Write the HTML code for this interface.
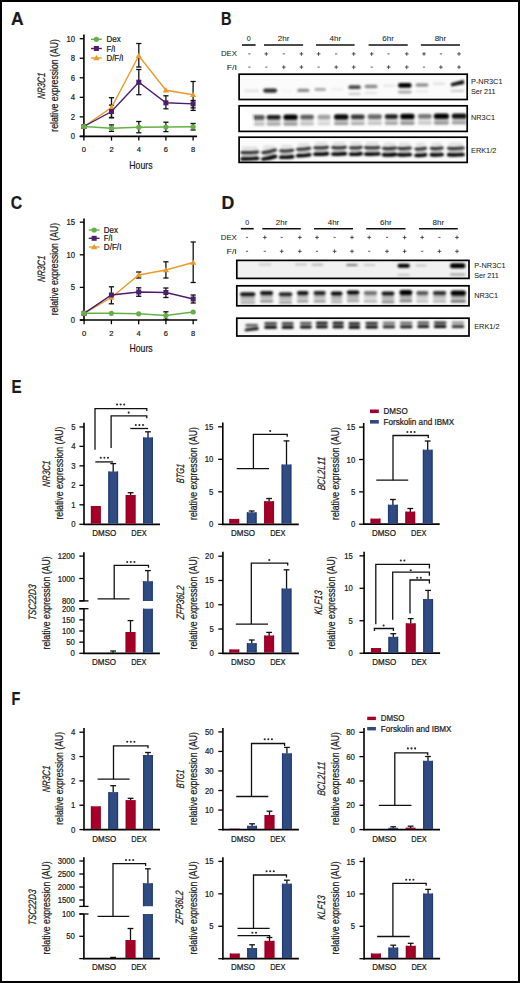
<!DOCTYPE html><html><head><meta charset="utf-8"><style>html,body{margin:0;padding:0;background:#fff;}svg{display:block;}text{font-family:"Liberation Sans",sans-serif;fill:#1a1a1a;stroke:#1a1a1a;stroke-width:0.22px;} text.nb{stroke-width:0.05px;}</style></head><body>
<svg width="520" height="983" viewBox="0 0 520 983">
<defs><filter id="bl" x="-20%" y="-50%" width="140%" height="200%"><feGaussianBlur stdDeviation="1.1"/></filter><filter id="bl2" x="-20%" y="-50%" width="140%" height="200%"><feGaussianBlur stdDeviation="0.85"/></filter></defs>
<rect x="0" y="0" width="520" height="983" fill="#fff"/>
<rect x="1" y="1" width="518" height="981" fill="none" stroke="#000" stroke-width="2"/>
<text x="11.00" y="25.10" font-size="17.5" textLength="12.60" lengthAdjust="spacingAndGlyphs" font-weight="bold" fill="#000" stroke="#000" stroke-width="0.7">A</text>
<text x="221.10" y="24.90" font-size="17.5" textLength="10.50" lengthAdjust="spacingAndGlyphs" font-weight="bold" fill="#000" stroke="#000" stroke-width="0.7">B</text>
<text x="10.80" y="209.00" font-size="17.5" textLength="11.40" lengthAdjust="spacingAndGlyphs" font-weight="bold" fill="#000" stroke="#000" stroke-width="0.7">C</text>
<text x="221.40" y="208.60" font-size="17.5" textLength="12.80" lengthAdjust="spacingAndGlyphs" font-weight="bold" fill="#000" stroke="#000" stroke-width="0.7">D</text>
<text x="11.40" y="392.60" font-size="17.5" textLength="10.10" lengthAdjust="spacingAndGlyphs" font-weight="bold" fill="#000" stroke="#000" stroke-width="0.7">E</text>
<text x="11.40" y="704.60" font-size="17.5" textLength="8.80" lengthAdjust="spacingAndGlyphs" font-weight="bold" fill="#000" stroke="#000" stroke-width="0.7">F</text>
<line x1="83.90" y1="34.40" x2="83.90" y2="137.20" stroke="#000" stroke-width="1.6"/>
<line x1="79.70" y1="136.40" x2="197.10" y2="136.40" stroke="#000" stroke-width="1.7"/>
<line x1="79.70" y1="136.40" x2="83.90" y2="136.40" stroke="#000" stroke-width="1.3"/>
<text x="75.10" y="139.34" font-size="8.4" text-anchor="end" textLength="4.30" lengthAdjust="spacingAndGlyphs">0</text>
<line x1="79.70" y1="116.86" x2="83.90" y2="116.86" stroke="#000" stroke-width="1.3"/>
<text x="75.10" y="119.80" font-size="8.4" text-anchor="end" textLength="4.30" lengthAdjust="spacingAndGlyphs">2</text>
<line x1="79.70" y1="97.32" x2="83.90" y2="97.32" stroke="#000" stroke-width="1.3"/>
<text x="75.10" y="100.26" font-size="8.4" text-anchor="end" textLength="4.30" lengthAdjust="spacingAndGlyphs">4</text>
<line x1="79.70" y1="77.78" x2="83.90" y2="77.78" stroke="#000" stroke-width="1.3"/>
<text x="75.10" y="80.72" font-size="8.4" text-anchor="end" textLength="4.30" lengthAdjust="spacingAndGlyphs">6</text>
<line x1="79.70" y1="58.24" x2="83.90" y2="58.24" stroke="#000" stroke-width="1.3"/>
<text x="75.10" y="61.18" font-size="8.4" text-anchor="end" textLength="4.30" lengthAdjust="spacingAndGlyphs">8</text>
<line x1="79.70" y1="38.70" x2="83.90" y2="38.70" stroke="#000" stroke-width="1.3"/>
<text x="75.10" y="41.64" font-size="8.4" text-anchor="end" textLength="8.60" lengthAdjust="spacingAndGlyphs">10</text>
<line x1="83.90" y1="136.40" x2="83.90" y2="140.60" stroke="#000" stroke-width="1.3"/>
<text x="83.90" y="152.40" font-size="8.0" text-anchor="middle" textLength="4.20" lengthAdjust="spacingAndGlyphs">0</text>
<line x1="111.50" y1="136.40" x2="111.50" y2="140.60" stroke="#000" stroke-width="1.3"/>
<text x="111.50" y="152.40" font-size="8.0" text-anchor="middle" textLength="4.20" lengthAdjust="spacingAndGlyphs">2</text>
<line x1="138.80" y1="136.40" x2="138.80" y2="140.60" stroke="#000" stroke-width="1.3"/>
<text x="138.80" y="152.40" font-size="8.0" text-anchor="middle" textLength="4.20" lengthAdjust="spacingAndGlyphs">4</text>
<line x1="165.90" y1="136.40" x2="165.90" y2="140.60" stroke="#000" stroke-width="1.3"/>
<text x="165.90" y="152.40" font-size="8.0" text-anchor="middle" textLength="4.20" lengthAdjust="spacingAndGlyphs">6</text>
<line x1="193.10" y1="136.40" x2="193.10" y2="140.60" stroke="#000" stroke-width="1.3"/>
<text x="193.10" y="152.40" font-size="8.0" text-anchor="middle" textLength="4.20" lengthAdjust="spacingAndGlyphs">8</text>
<text x="140.90" y="168.60" font-size="11.2" text-anchor="middle" textLength="23.20" lengthAdjust="spacingAndGlyphs">Hours</text>
<text transform="translate(44.80,86.10) rotate(-90) skewX(-5)" x="0" y="0" font-size="10.8" text-anchor="middle" textLength="26.50" lengthAdjust="spacingAndGlyphs" font-style="italic">NR3C1</text>
<text transform="translate(58.00,85.40) rotate(-90)" x="0" y="0" font-size="11" text-anchor="middle" textLength="92.50" lengthAdjust="spacingAndGlyphs">relative expression (AU)</text>
<line x1="111.50" y1="124.90" x2="111.50" y2="131.40" stroke="#111" stroke-width="1.3"/>
<line x1="108.90" y1="124.90" x2="114.10" y2="124.90" stroke="#111" stroke-width="1.3"/>
<line x1="108.90" y1="131.40" x2="114.10" y2="131.40" stroke="#111" stroke-width="1.3"/>
<line x1="138.80" y1="121.50" x2="138.80" y2="132.80" stroke="#111" stroke-width="1.3"/>
<line x1="136.20" y1="121.50" x2="141.40" y2="121.50" stroke="#111" stroke-width="1.3"/>
<line x1="136.20" y1="132.80" x2="141.40" y2="132.80" stroke="#111" stroke-width="1.3"/>
<line x1="165.90" y1="122.20" x2="165.90" y2="131.60" stroke="#111" stroke-width="1.3"/>
<line x1="163.30" y1="122.20" x2="168.50" y2="122.20" stroke="#111" stroke-width="1.3"/>
<line x1="163.30" y1="131.60" x2="168.50" y2="131.60" stroke="#111" stroke-width="1.3"/>
<line x1="193.10" y1="123.50" x2="193.10" y2="130.00" stroke="#111" stroke-width="1.3"/>
<line x1="190.50" y1="123.50" x2="195.70" y2="123.50" stroke="#111" stroke-width="1.3"/>
<line x1="190.50" y1="130.00" x2="195.70" y2="130.00" stroke="#111" stroke-width="1.3"/>
<line x1="111.50" y1="105.10" x2="111.50" y2="117.80" stroke="#111" stroke-width="1.3"/>
<line x1="108.90" y1="105.10" x2="114.10" y2="105.10" stroke="#111" stroke-width="1.3"/>
<line x1="108.90" y1="117.80" x2="114.10" y2="117.80" stroke="#111" stroke-width="1.3"/>
<line x1="138.80" y1="69.50" x2="138.80" y2="94.70" stroke="#111" stroke-width="1.3"/>
<line x1="136.20" y1="69.50" x2="141.40" y2="69.50" stroke="#111" stroke-width="1.3"/>
<line x1="136.20" y1="94.70" x2="141.40" y2="94.70" stroke="#111" stroke-width="1.3"/>
<line x1="165.90" y1="95.80" x2="165.90" y2="108.80" stroke="#111" stroke-width="1.3"/>
<line x1="163.30" y1="95.80" x2="168.50" y2="95.80" stroke="#111" stroke-width="1.3"/>
<line x1="163.30" y1="108.80" x2="168.50" y2="108.80" stroke="#111" stroke-width="1.3"/>
<line x1="193.10" y1="100.50" x2="193.10" y2="110.40" stroke="#111" stroke-width="1.3"/>
<line x1="190.50" y1="100.50" x2="195.70" y2="100.50" stroke="#111" stroke-width="1.3"/>
<line x1="190.50" y1="110.40" x2="195.70" y2="110.40" stroke="#111" stroke-width="1.3"/>
<line x1="111.50" y1="97.70" x2="111.50" y2="117.50" stroke="#111" stroke-width="1.3"/>
<line x1="108.90" y1="97.70" x2="114.10" y2="97.70" stroke="#111" stroke-width="1.3"/>
<line x1="108.90" y1="117.50" x2="114.10" y2="117.50" stroke="#111" stroke-width="1.3"/>
<line x1="138.80" y1="43.50" x2="138.80" y2="67.00" stroke="#111" stroke-width="1.3"/>
<line x1="136.20" y1="43.50" x2="141.40" y2="43.50" stroke="#111" stroke-width="1.3"/>
<line x1="136.20" y1="67.00" x2="141.40" y2="67.00" stroke="#111" stroke-width="1.3"/>
<line x1="193.10" y1="81.50" x2="193.10" y2="107.90" stroke="#111" stroke-width="1.3"/>
<line x1="190.50" y1="81.50" x2="195.70" y2="81.50" stroke="#111" stroke-width="1.3"/>
<line x1="190.50" y1="107.90" x2="195.70" y2="107.90" stroke="#111" stroke-width="1.3"/>
<polyline points="83.90,126.50 111.50,107.60 138.80,55.70 165.90,90.30 193.10,94.70" fill="none" stroke="#e99a2a" stroke-width="1.4"/>
<polygon points="83.90,123.50 87.05,128.75 80.75,128.75" fill="#e99a2a"/>
<polygon points="111.50,104.60 114.65,109.85 108.35,109.85" fill="#e99a2a"/>
<polygon points="138.80,52.70 141.95,57.95 135.65,57.95" fill="#e99a2a"/>
<polygon points="165.90,87.30 169.05,92.55 162.75,92.55" fill="#e99a2a"/>
<polygon points="193.10,91.70 196.25,96.95 189.95,96.95" fill="#e99a2a"/>
<polyline points="83.90,126.50 111.50,111.50 138.80,82.20 165.90,102.80 193.10,103.90" fill="none" stroke="#4b1e6e" stroke-width="1.4"/>
<rect x="81.40" y="124.00" width="5.00" height="5.00" fill="#4b1e6e"/>
<rect x="109.00" y="109.00" width="5.00" height="5.00" fill="#4b1e6e"/>
<rect x="136.30" y="79.70" width="5.00" height="5.00" fill="#4b1e6e"/>
<rect x="163.40" y="100.30" width="5.00" height="5.00" fill="#4b1e6e"/>
<rect x="190.60" y="101.40" width="5.00" height="5.00" fill="#4b1e6e"/>
<polyline points="83.90,126.50 111.50,128.20 138.80,127.20 165.90,127.00 193.10,126.80" fill="none" stroke="#64b046" stroke-width="1.4"/>
<circle cx="83.90" cy="126.50" r="2.60" fill="#64b046"/>
<circle cx="111.50" cy="128.20" r="2.60" fill="#64b046"/>
<circle cx="138.80" cy="127.20" r="2.60" fill="#64b046"/>
<circle cx="165.90" cy="127.00" r="2.60" fill="#64b046"/>
<circle cx="193.10" cy="126.80" r="2.60" fill="#64b046"/>
<line x1="91.00" y1="39.30" x2="101.80" y2="39.30" stroke="#64b046" stroke-width="1.4"/>
<circle cx="96.40" cy="39.30" r="2.60" fill="#64b046"/>
<text x="106.50" y="42.30" font-size="8.4" textLength="14.20" lengthAdjust="spacingAndGlyphs">Dex</text>
<line x1="91.00" y1="48.50" x2="101.80" y2="48.50" stroke="#4b1e6e" stroke-width="1.4"/>
<rect x="93.90" y="46.00" width="5.00" height="5.00" fill="#4b1e6e"/>
<text x="106.50" y="51.50" font-size="8.4" textLength="9.00" lengthAdjust="spacingAndGlyphs">F/I</text>
<line x1="91.00" y1="58.00" x2="101.80" y2="58.00" stroke="#e99a2a" stroke-width="1.4"/>
<polygon points="96.40,55.00 99.55,60.25 93.25,60.25" fill="#e99a2a"/>
<text x="106.50" y="61.00" font-size="8.4" textLength="17.00" lengthAdjust="spacingAndGlyphs">D/F/I</text>
<line x1="84.00" y1="218.40" x2="84.00" y2="320.80" stroke="#000" stroke-width="1.6"/>
<line x1="79.80" y1="320.00" x2="197.20" y2="320.00" stroke="#000" stroke-width="1.7"/>
<line x1="79.80" y1="320.00" x2="84.00" y2="320.00" stroke="#000" stroke-width="1.3"/>
<text x="75.10" y="322.94" font-size="8.4" text-anchor="end" textLength="4.30" lengthAdjust="spacingAndGlyphs">0</text>
<line x1="79.80" y1="287.40" x2="84.00" y2="287.40" stroke="#000" stroke-width="1.3"/>
<text x="75.10" y="290.34" font-size="8.4" text-anchor="end" textLength="4.30" lengthAdjust="spacingAndGlyphs">5</text>
<line x1="79.80" y1="254.80" x2="84.00" y2="254.80" stroke="#000" stroke-width="1.3"/>
<text x="75.10" y="257.74" font-size="8.4" text-anchor="end" textLength="8.60" lengthAdjust="spacingAndGlyphs">10</text>
<line x1="79.80" y1="222.20" x2="84.00" y2="222.20" stroke="#000" stroke-width="1.3"/>
<text x="75.10" y="225.14" font-size="8.4" text-anchor="end" textLength="8.60" lengthAdjust="spacingAndGlyphs">15</text>
<line x1="84.10" y1="320.00" x2="84.10" y2="324.20" stroke="#000" stroke-width="1.3"/>
<text x="84.10" y="336.00" font-size="8.0" text-anchor="middle" textLength="4.20" lengthAdjust="spacingAndGlyphs">0</text>
<line x1="111.40" y1="320.00" x2="111.40" y2="324.20" stroke="#000" stroke-width="1.3"/>
<text x="111.40" y="336.00" font-size="8.0" text-anchor="middle" textLength="4.20" lengthAdjust="spacingAndGlyphs">2</text>
<line x1="138.70" y1="320.00" x2="138.70" y2="324.20" stroke="#000" stroke-width="1.3"/>
<text x="138.70" y="336.00" font-size="8.0" text-anchor="middle" textLength="4.20" lengthAdjust="spacingAndGlyphs">4</text>
<line x1="165.90" y1="320.00" x2="165.90" y2="324.20" stroke="#000" stroke-width="1.3"/>
<text x="165.90" y="336.00" font-size="8.0" text-anchor="middle" textLength="4.20" lengthAdjust="spacingAndGlyphs">6</text>
<line x1="193.20" y1="320.00" x2="193.20" y2="324.20" stroke="#000" stroke-width="1.3"/>
<text x="193.20" y="336.00" font-size="8.0" text-anchor="middle" textLength="4.20" lengthAdjust="spacingAndGlyphs">8</text>
<text x="141.05" y="352.40" font-size="11.2" text-anchor="middle" textLength="23.20" lengthAdjust="spacingAndGlyphs">Hours</text>
<text transform="translate(44.80,269.10) rotate(-90) skewX(-5)" x="0" y="0" font-size="10.8" text-anchor="middle" textLength="26.50" lengthAdjust="spacingAndGlyphs" font-style="italic">NR3C1</text>
<text transform="translate(58.30,269.10) rotate(-90)" x="0" y="0" font-size="11" text-anchor="middle" textLength="92.50" lengthAdjust="spacingAndGlyphs">relative expression (AU)</text>
<line x1="165.90" y1="311.80" x2="165.90" y2="319.30" stroke="#111" stroke-width="1.3"/>
<line x1="163.30" y1="311.80" x2="168.50" y2="311.80" stroke="#111" stroke-width="1.3"/>
<line x1="163.30" y1="319.30" x2="168.50" y2="319.30" stroke="#111" stroke-width="1.3"/>
<line x1="111.40" y1="286.80" x2="111.40" y2="303.80" stroke="#111" stroke-width="1.3"/>
<line x1="108.80" y1="286.80" x2="114.00" y2="286.80" stroke="#111" stroke-width="1.3"/>
<line x1="108.80" y1="303.80" x2="114.00" y2="303.80" stroke="#111" stroke-width="1.3"/>
<line x1="138.70" y1="287.80" x2="138.70" y2="296.30" stroke="#111" stroke-width="1.3"/>
<line x1="136.10" y1="287.80" x2="141.30" y2="287.80" stroke="#111" stroke-width="1.3"/>
<line x1="136.10" y1="296.30" x2="141.30" y2="296.30" stroke="#111" stroke-width="1.3"/>
<line x1="165.90" y1="288.00" x2="165.90" y2="297.50" stroke="#111" stroke-width="1.3"/>
<line x1="163.30" y1="288.00" x2="168.50" y2="288.00" stroke="#111" stroke-width="1.3"/>
<line x1="163.30" y1="297.50" x2="168.50" y2="297.50" stroke="#111" stroke-width="1.3"/>
<line x1="193.20" y1="295.00" x2="193.20" y2="303.00" stroke="#111" stroke-width="1.3"/>
<line x1="190.60" y1="295.00" x2="195.80" y2="295.00" stroke="#111" stroke-width="1.3"/>
<line x1="190.60" y1="303.00" x2="195.80" y2="303.00" stroke="#111" stroke-width="1.3"/>
<line x1="138.70" y1="272.00" x2="138.70" y2="278.00" stroke="#111" stroke-width="1.3"/>
<line x1="136.10" y1="272.00" x2="141.30" y2="272.00" stroke="#111" stroke-width="1.3"/>
<line x1="136.10" y1="278.00" x2="141.30" y2="278.00" stroke="#111" stroke-width="1.3"/>
<line x1="165.90" y1="261.80" x2="165.90" y2="278.00" stroke="#111" stroke-width="1.3"/>
<line x1="163.30" y1="261.80" x2="168.50" y2="261.80" stroke="#111" stroke-width="1.3"/>
<line x1="163.30" y1="278.00" x2="168.50" y2="278.00" stroke="#111" stroke-width="1.3"/>
<line x1="193.20" y1="242.00" x2="193.20" y2="282.50" stroke="#111" stroke-width="1.3"/>
<line x1="190.60" y1="242.00" x2="195.80" y2="242.00" stroke="#111" stroke-width="1.3"/>
<line x1="190.60" y1="282.50" x2="195.80" y2="282.50" stroke="#111" stroke-width="1.3"/>
<polyline points="84.10,313.30 111.40,297.50 138.70,275.00 165.90,270.00 193.20,262.50" fill="none" stroke="#e99a2a" stroke-width="1.4"/>
<polygon points="84.10,310.30 87.25,315.55 80.95,315.55" fill="#e99a2a"/>
<polygon points="111.40,294.50 114.55,299.75 108.25,299.75" fill="#e99a2a"/>
<polygon points="138.70,272.00 141.85,277.25 135.55,277.25" fill="#e99a2a"/>
<polygon points="165.90,267.00 169.05,272.25 162.75,272.25" fill="#e99a2a"/>
<polygon points="193.20,259.50 196.35,264.75 190.05,264.75" fill="#e99a2a"/>
<polyline points="84.10,313.30 111.40,295.00 138.70,292.00 165.90,292.50 193.20,299.00" fill="none" stroke="#4b1e6e" stroke-width="1.4"/>
<rect x="81.60" y="310.80" width="5.00" height="5.00" fill="#4b1e6e"/>
<rect x="108.90" y="292.50" width="5.00" height="5.00" fill="#4b1e6e"/>
<rect x="136.20" y="289.50" width="5.00" height="5.00" fill="#4b1e6e"/>
<rect x="163.40" y="290.00" width="5.00" height="5.00" fill="#4b1e6e"/>
<rect x="190.70" y="296.50" width="5.00" height="5.00" fill="#4b1e6e"/>
<polyline points="84.10,313.30 111.40,313.30 138.70,313.80 165.90,315.50 193.20,312.00" fill="none" stroke="#64b046" stroke-width="1.4"/>
<circle cx="84.10" cy="313.30" r="2.60" fill="#64b046"/>
<circle cx="111.40" cy="313.30" r="2.60" fill="#64b046"/>
<circle cx="138.70" cy="313.80" r="2.60" fill="#64b046"/>
<circle cx="165.90" cy="315.50" r="2.60" fill="#64b046"/>
<circle cx="193.20" cy="312.00" r="2.60" fill="#64b046"/>
<line x1="88.80" y1="230.00" x2="99.50" y2="230.00" stroke="#64b046" stroke-width="1.4"/>
<circle cx="94.15" cy="230.00" r="2.60" fill="#64b046"/>
<text x="103.80" y="233.00" font-size="8.4" textLength="14.20" lengthAdjust="spacingAndGlyphs">Dex</text>
<line x1="88.80" y1="238.30" x2="99.50" y2="238.30" stroke="#4b1e6e" stroke-width="1.4"/>
<rect x="91.65" y="235.80" width="5.00" height="5.00" fill="#4b1e6e"/>
<text x="103.80" y="241.30" font-size="8.4" textLength="8.80" lengthAdjust="spacingAndGlyphs">F/I</text>
<line x1="88.80" y1="247.00" x2="99.50" y2="247.00" stroke="#e99a2a" stroke-width="1.4"/>
<polygon points="94.15,244.00 97.30,249.25 91.00,249.25" fill="#e99a2a"/>
<text x="103.80" y="250.00" font-size="8.4" textLength="17.60" lengthAdjust="spacingAndGlyphs">D/F/I</text>
<line x1="242.00" y1="45.00" x2="255.60" y2="45.00" stroke="#111" stroke-width="1.6"/>
<text x="248.80" y="41.30" font-size="7.2" text-anchor="middle" textLength="4.00" lengthAdjust="spacingAndGlyphs" class="nb">0</text>
<line x1="264.00" y1="45.00" x2="303.10" y2="45.00" stroke="#111" stroke-width="1.6"/>
<text x="283.55" y="41.30" font-size="7.2" text-anchor="middle" textLength="11.60" lengthAdjust="spacingAndGlyphs" class="nb">2hr</text>
<line x1="316.00" y1="45.00" x2="354.60" y2="45.00" stroke="#111" stroke-width="1.6"/>
<text x="335.30" y="41.30" font-size="7.2" text-anchor="middle" textLength="11.60" lengthAdjust="spacingAndGlyphs" class="nb">4hr</text>
<line x1="368.60" y1="45.00" x2="407.70" y2="45.00" stroke="#111" stroke-width="1.6"/>
<text x="388.15" y="41.30" font-size="7.2" text-anchor="middle" textLength="11.60" lengthAdjust="spacingAndGlyphs" class="nb">6hr</text>
<line x1="420.90" y1="45.00" x2="460.00" y2="45.00" stroke="#111" stroke-width="1.6"/>
<text x="440.45" y="41.30" font-size="7.2" text-anchor="middle" textLength="11.60" lengthAdjust="spacingAndGlyphs" class="nb">8hr</text>
<text x="237.00" y="56.40" font-size="7.2" text-anchor="end" textLength="16.00" lengthAdjust="spacingAndGlyphs" class="nb">DEX</text>
<text x="237.00" y="69.60" font-size="7.2" text-anchor="end" textLength="10.30" lengthAdjust="spacingAndGlyphs" class="nb">F/I</text>
<line x1="248.30" y1="53.90" x2="250.50" y2="53.90" stroke="#333" stroke-width="0.8"/>
<line x1="264.40" y1="53.90" x2="268.20" y2="53.90" stroke="#222" stroke-width="0.75"/>
<line x1="266.30" y1="52.00" x2="266.30" y2="55.80" stroke="#222" stroke-width="0.75"/>
<line x1="282.70" y1="53.90" x2="284.90" y2="53.90" stroke="#333" stroke-width="0.8"/>
<line x1="299.50" y1="53.90" x2="303.30" y2="53.90" stroke="#222" stroke-width="0.75"/>
<line x1="301.40" y1="52.00" x2="301.40" y2="55.80" stroke="#222" stroke-width="0.75"/>
<line x1="316.70" y1="53.90" x2="320.50" y2="53.90" stroke="#222" stroke-width="0.75"/>
<line x1="318.60" y1="52.00" x2="318.60" y2="55.80" stroke="#222" stroke-width="0.75"/>
<line x1="335.10" y1="53.90" x2="337.30" y2="53.90" stroke="#333" stroke-width="0.8"/>
<line x1="351.80" y1="53.90" x2="355.60" y2="53.90" stroke="#222" stroke-width="0.75"/>
<line x1="353.70" y1="52.00" x2="353.70" y2="55.80" stroke="#222" stroke-width="0.75"/>
<line x1="369.80" y1="53.90" x2="373.60" y2="53.90" stroke="#222" stroke-width="0.75"/>
<line x1="371.70" y1="52.00" x2="371.70" y2="55.80" stroke="#222" stroke-width="0.75"/>
<line x1="387.50" y1="53.90" x2="389.70" y2="53.90" stroke="#333" stroke-width="0.8"/>
<line x1="404.90" y1="53.90" x2="408.70" y2="53.90" stroke="#222" stroke-width="0.75"/>
<line x1="406.80" y1="52.00" x2="406.80" y2="55.80" stroke="#222" stroke-width="0.75"/>
<line x1="422.10" y1="53.90" x2="425.90" y2="53.90" stroke="#222" stroke-width="0.75"/>
<line x1="424.00" y1="52.00" x2="424.00" y2="55.80" stroke="#222" stroke-width="0.75"/>
<line x1="439.80" y1="53.90" x2="442.00" y2="53.90" stroke="#333" stroke-width="0.8"/>
<line x1="457.10" y1="53.90" x2="460.90" y2="53.90" stroke="#222" stroke-width="0.75"/>
<line x1="459.00" y1="52.00" x2="459.00" y2="55.80" stroke="#222" stroke-width="0.75"/>
<line x1="248.30" y1="67.10" x2="250.50" y2="67.10" stroke="#333" stroke-width="0.8"/>
<line x1="265.20" y1="67.10" x2="267.40" y2="67.10" stroke="#333" stroke-width="0.8"/>
<line x1="281.90" y1="67.10" x2="285.70" y2="67.10" stroke="#222" stroke-width="0.75"/>
<line x1="283.80" y1="65.20" x2="283.80" y2="69.00" stroke="#222" stroke-width="0.75"/>
<line x1="299.50" y1="67.10" x2="303.30" y2="67.10" stroke="#222" stroke-width="0.75"/>
<line x1="301.40" y1="65.20" x2="301.40" y2="69.00" stroke="#222" stroke-width="0.75"/>
<line x1="317.50" y1="67.10" x2="319.70" y2="67.10" stroke="#333" stroke-width="0.8"/>
<line x1="334.30" y1="67.10" x2="338.10" y2="67.10" stroke="#222" stroke-width="0.75"/>
<line x1="336.20" y1="65.20" x2="336.20" y2="69.00" stroke="#222" stroke-width="0.75"/>
<line x1="351.80" y1="67.10" x2="355.60" y2="67.10" stroke="#222" stroke-width="0.75"/>
<line x1="353.70" y1="65.20" x2="353.70" y2="69.00" stroke="#222" stroke-width="0.75"/>
<line x1="370.60" y1="67.10" x2="372.80" y2="67.10" stroke="#333" stroke-width="0.8"/>
<line x1="386.70" y1="67.10" x2="390.50" y2="67.10" stroke="#222" stroke-width="0.75"/>
<line x1="388.60" y1="65.20" x2="388.60" y2="69.00" stroke="#222" stroke-width="0.75"/>
<line x1="404.90" y1="67.10" x2="408.70" y2="67.10" stroke="#222" stroke-width="0.75"/>
<line x1="406.80" y1="65.20" x2="406.80" y2="69.00" stroke="#222" stroke-width="0.75"/>
<line x1="422.90" y1="67.10" x2="425.10" y2="67.10" stroke="#333" stroke-width="0.8"/>
<line x1="439.00" y1="67.10" x2="442.80" y2="67.10" stroke="#222" stroke-width="0.75"/>
<line x1="440.90" y1="65.20" x2="440.90" y2="69.00" stroke="#222" stroke-width="0.75"/>
<line x1="457.10" y1="67.10" x2="460.90" y2="67.10" stroke="#222" stroke-width="0.75"/>
<line x1="459.00" y1="65.20" x2="459.00" y2="69.00" stroke="#222" stroke-width="0.75"/>
<rect x="239.10" y="74.20" width="228.10" height="25.30" fill="#fbfbfb"/>
<rect x="239.10" y="105.80" width="228.10" height="25.60" fill="#fcfcfc"/>
<rect x="239.10" y="137.20" width="228.10" height="25.20" fill="#fbfbfb"/>
<g filter="url(#bl)">
<rect x="244.00" y="89.60" width="15.00" height="2.40" rx="1.20" fill="#000" fill-opacity="0.10"/>
<rect x="263.20" y="88.50" width="13.90" height="4.20" rx="2.10" fill="#000" fill-opacity="0.82"/>
<rect x="281.00" y="89.70" width="11.00" height="2.20" rx="1.10" fill="#000" fill-opacity="0.03"/>
<rect x="297.20" y="88.70" width="12.20" height="3.40" rx="1.70" fill="#000" fill-opacity="0.45"/>
<rect x="314.50" y="88.10" width="11.50" height="3.00" rx="1.50" fill="#000" fill-opacity="0.32"/>
<rect x="331.00" y="88.00" width="12.00" height="2.40" rx="1.20" fill="#000" fill-opacity="0.05"/>
<rect x="348.40" y="85.30" width="12.40" height="3.80" rx="1.90" fill="#000" fill-opacity="0.72"/>
<rect x="364.60" y="84.70" width="12.90" height="3.60" rx="1.80" fill="#000" fill-opacity="0.45"/>
<rect x="383.00" y="84.50" width="12.00" height="2.60" rx="1.30" fill="#000" fill-opacity="0.08"/>
<rect x="398.00" y="83.10" width="13.60" height="4.60" rx="2.30" fill="#000" fill-opacity="1.00"/>
<rect x="415.50" y="83.20" width="13.00" height="3.60" rx="1.80" fill="#000" fill-opacity="0.42"/>
<rect x="432.80" y="82.50" width="12.20" height="2.60" rx="1.30" fill="#000" fill-opacity="0.10"/>
<path d="M450.8,83.2 L463.8,79.8 L464.2,84.0 L451.2,86.6 Z" fill="#000" fill-opacity="0.92"/>
<rect x="348.40" y="92.80" width="12.40" height="2.20" rx="1.10" fill="#000" fill-opacity="0.18"/>
<rect x="364.60" y="92.00" width="12.90" height="2.00" rx="1.00" fill="#000" fill-opacity="0.10"/>
<rect x="398.00" y="90.60" width="13.60" height="2.80" rx="1.40" fill="#000" fill-opacity="0.32"/>
<rect x="415.50" y="90.20" width="13.00" height="2.00" rx="1.00" fill="#000" fill-opacity="0.08"/>
<rect x="450.60" y="89.80" width="13.60" height="2.20" rx="1.10" fill="#000" fill-opacity="0.18"/>
<rect x="250.20" y="115.10" width="14.60" height="4.60" rx="2.30" fill="#000" fill-opacity="0.65"/>
<rect x="250.20" y="119.30" width="14.60" height="3.00" rx="1.50" fill="#000" fill-opacity="0.15"/>
<rect x="250.20" y="122.80" width="14.60" height="2.80" rx="1.40" fill="#000" fill-opacity="0.28"/>
<rect x="266.60" y="114.98" width="14.20" height="4.60" rx="2.30" fill="#000" fill-opacity="0.89"/>
<rect x="266.60" y="119.19" width="14.20" height="3.00" rx="1.50" fill="#000" fill-opacity="0.21"/>
<rect x="266.60" y="122.69" width="14.20" height="2.80" rx="1.40" fill="#000" fill-opacity="0.38"/>
<rect x="283.40" y="114.57" width="14.30" height="5.20" rx="2.50" fill="#000" fill-opacity="1.00"/>
<rect x="283.40" y="119.08" width="14.30" height="3.00" rx="1.50" fill="#000" fill-opacity="0.24"/>
<rect x="283.40" y="122.58" width="14.30" height="2.80" rx="1.40" fill="#000" fill-opacity="0.43"/>
<rect x="300.10" y="114.75" width="13.90" height="4.60" rx="2.30" fill="#000" fill-opacity="0.63"/>
<rect x="300.10" y="118.96" width="13.90" height="3.00" rx="1.50" fill="#000" fill-opacity="0.15"/>
<rect x="300.10" y="122.47" width="13.90" height="2.80" rx="1.40" fill="#000" fill-opacity="0.27"/>
<rect x="317.40" y="114.63" width="13.20" height="4.60" rx="2.30" fill="#000" fill-opacity="0.37"/>
<rect x="317.40" y="118.85" width="13.20" height="3.00" rx="1.50" fill="#000" fill-opacity="0.09"/>
<rect x="317.40" y="122.37" width="13.20" height="2.80" rx="1.40" fill="#000" fill-opacity="0.16"/>
<rect x="334.00" y="114.22" width="14.50" height="5.20" rx="2.50" fill="#000" fill-opacity="0.97"/>
<rect x="334.00" y="118.74" width="14.50" height="3.00" rx="1.50" fill="#000" fill-opacity="0.23"/>
<rect x="334.00" y="122.26" width="14.50" height="2.80" rx="1.40" fill="#000" fill-opacity="0.41"/>
<rect x="350.70" y="114.40" width="14.10" height="4.60" rx="2.30" fill="#000" fill-opacity="0.79"/>
<rect x="350.70" y="118.62" width="14.10" height="3.00" rx="1.50" fill="#000" fill-opacity="0.19"/>
<rect x="350.70" y="122.15" width="14.10" height="2.80" rx="1.40" fill="#000" fill-opacity="0.34"/>
<rect x="367.50" y="114.28" width="14.50" height="4.60" rx="2.30" fill="#000" fill-opacity="0.58"/>
<rect x="367.50" y="118.51" width="14.50" height="3.00" rx="1.50" fill="#000" fill-opacity="0.14"/>
<rect x="367.50" y="122.04" width="14.50" height="2.80" rx="1.40" fill="#000" fill-opacity="0.25"/>
<rect x="384.70" y="114.17" width="13.30" height="4.60" rx="2.30" fill="#000" fill-opacity="0.89"/>
<rect x="384.70" y="118.40" width="13.30" height="3.00" rx="1.50" fill="#000" fill-opacity="0.21"/>
<rect x="384.70" y="121.93" width="13.30" height="2.80" rx="1.40" fill="#000" fill-opacity="0.38"/>
<rect x="400.20" y="113.75" width="14.40" height="5.20" rx="2.50" fill="#000" fill-opacity="1.00"/>
<rect x="400.20" y="118.29" width="14.40" height="3.00" rx="1.50" fill="#000" fill-opacity="0.25"/>
<rect x="400.20" y="121.83" width="14.40" height="2.80" rx="1.40" fill="#000" fill-opacity="0.45"/>
<rect x="417.80" y="113.93" width="14.00" height="4.60" rx="2.30" fill="#000" fill-opacity="0.53"/>
<rect x="417.80" y="118.18" width="14.00" height="3.00" rx="1.50" fill="#000" fill-opacity="0.12"/>
<rect x="417.80" y="121.72" width="14.00" height="2.80" rx="1.40" fill="#000" fill-opacity="0.23"/>
<rect x="433.80" y="113.52" width="15.20" height="5.20" rx="2.50" fill="#000" fill-opacity="1.00"/>
<rect x="433.80" y="118.06" width="15.20" height="3.00" rx="1.50" fill="#000" fill-opacity="0.25"/>
<rect x="433.80" y="121.61" width="15.20" height="2.80" rx="1.40" fill="#000" fill-opacity="0.45"/>
<rect x="451.70" y="113.40" width="15.10" height="5.20" rx="2.50" fill="#000" fill-opacity="0.95"/>
<rect x="451.70" y="117.95" width="15.10" height="3.00" rx="1.50" fill="#000" fill-opacity="0.23"/>
<rect x="451.70" y="121.50" width="15.10" height="2.80" rx="1.40" fill="#000" fill-opacity="0.41"/>
<polygon points="239.5,107 253,116 253,126 239.5,131" fill="#fff"/>
<path d="M241.9,152.5 Q249.9,152.8 257.8,151.9" stroke="#000" stroke-opacity="0.82" stroke-width="3.0" fill="none" stroke-linecap="round"/>
<path d="M241.9,159.0 Q249.9,159.3 257.8,158.4" stroke="#000" stroke-opacity="1.00" stroke-width="3.4" fill="none" stroke-linecap="round"/>
<rect x="241.90" y="154.00" width="15.90" height="3.00" rx="1.50" fill="#000" fill-opacity="0.22"/>
<rect x="241.90" y="146.45" width="15.90" height="3.50" rx="1.75" fill="#000" fill-opacity="0.10"/>
<path d="M262.8,152.6 Q269.2,151.9 275.6,150.0" stroke="#000" stroke-opacity="0.82" stroke-width="3.0" fill="none" stroke-linecap="round"/>
<path d="M262.8,159.1 Q269.2,158.4 275.6,156.5" stroke="#000" stroke-opacity="1.00" stroke-width="3.4" fill="none" stroke-linecap="round"/>
<rect x="262.80" y="153.10" width="12.80" height="3.00" rx="1.50" fill="#000" fill-opacity="0.22"/>
<rect x="262.80" y="145.55" width="12.80" height="3.50" rx="1.75" fill="#000" fill-opacity="0.10"/>
<path d="M280.7,150.8 Q286.8,151.2 292.8,150.3" stroke="#000" stroke-opacity="0.82" stroke-width="3.0" fill="none" stroke-linecap="round"/>
<path d="M280.7,157.3 Q286.8,157.7 292.8,156.8" stroke="#000" stroke-opacity="1.00" stroke-width="3.4" fill="none" stroke-linecap="round"/>
<rect x="280.70" y="152.40" width="12.10" height="3.00" rx="1.50" fill="#000" fill-opacity="0.22"/>
<rect x="280.70" y="144.85" width="12.10" height="3.50" rx="1.75" fill="#000" fill-opacity="0.10"/>
<path d="M297.6,149.3 Q303.7,149.4 309.8,148.3" stroke="#000" stroke-opacity="0.82" stroke-width="3.0" fill="none" stroke-linecap="round"/>
<path d="M297.6,155.8 Q303.7,155.9 309.8,154.8" stroke="#000" stroke-opacity="1.00" stroke-width="3.4" fill="none" stroke-linecap="round"/>
<rect x="297.60" y="150.60" width="12.20" height="3.00" rx="1.50" fill="#000" fill-opacity="0.22"/>
<rect x="297.60" y="143.05" width="12.20" height="3.50" rx="1.75" fill="#000" fill-opacity="0.10"/>
<path d="M314.8,147.7 Q321.2,148.0 327.6,147.2" stroke="#000" stroke-opacity="0.82" stroke-width="3.0" fill="none" stroke-linecap="round"/>
<path d="M314.8,154.2 Q321.2,154.5 327.6,153.7" stroke="#000" stroke-opacity="1.00" stroke-width="3.4" fill="none" stroke-linecap="round"/>
<rect x="314.80" y="149.20" width="12.80" height="3.00" rx="1.50" fill="#000" fill-opacity="0.22"/>
<rect x="314.80" y="141.65" width="12.80" height="3.50" rx="1.75" fill="#000" fill-opacity="0.10"/>
<path d="M332.7,147.6 Q339.1,148.0 345.5,147.2" stroke="#000" stroke-opacity="0.82" stroke-width="3.0" fill="none" stroke-linecap="round"/>
<path d="M332.7,154.1 Q339.1,154.5 345.5,153.8" stroke="#000" stroke-opacity="1.00" stroke-width="3.4" fill="none" stroke-linecap="round"/>
<rect x="332.70" y="149.20" width="12.80" height="3.00" rx="1.50" fill="#000" fill-opacity="0.22"/>
<rect x="332.70" y="141.65" width="12.80" height="3.50" rx="1.75" fill="#000" fill-opacity="0.10"/>
<path d="M350.5,147.7 Q355.9,148.1 361.2,147.3" stroke="#000" stroke-opacity="0.82" stroke-width="3.0" fill="none" stroke-linecap="round"/>
<path d="M350.5,154.2 Q355.9,154.6 361.2,153.8" stroke="#000" stroke-opacity="1.00" stroke-width="3.4" fill="none" stroke-linecap="round"/>
<rect x="350.50" y="149.30" width="10.70" height="3.00" rx="1.50" fill="#000" fill-opacity="0.22"/>
<rect x="350.50" y="141.75" width="10.70" height="3.50" rx="1.75" fill="#000" fill-opacity="0.10"/>
<path d="M365.6,147.6 Q372.3,148.1 379.0,147.4" stroke="#000" stroke-opacity="0.82" stroke-width="3.0" fill="none" stroke-linecap="round"/>
<path d="M365.6,154.1 Q372.3,154.6 379.0,153.9" stroke="#000" stroke-opacity="1.00" stroke-width="3.4" fill="none" stroke-linecap="round"/>
<rect x="365.60" y="149.30" width="13.40" height="3.00" rx="1.50" fill="#000" fill-opacity="0.22"/>
<rect x="365.60" y="141.75" width="13.40" height="3.50" rx="1.75" fill="#000" fill-opacity="0.10"/>
<path d="M383.5,148.3 Q389.6,148.8 395.6,148.0" stroke="#000" stroke-opacity="0.82" stroke-width="3.0" fill="none" stroke-linecap="round"/>
<path d="M383.5,154.8 Q389.6,155.3 395.6,154.5" stroke="#000" stroke-opacity="1.00" stroke-width="3.4" fill="none" stroke-linecap="round"/>
<rect x="383.50" y="150.00" width="12.10" height="3.00" rx="1.50" fill="#000" fill-opacity="0.22"/>
<rect x="383.50" y="142.45" width="12.10" height="3.50" rx="1.75" fill="#000" fill-opacity="0.10"/>
<path d="M398.8,148.3 Q404.6,148.8 410.4,148.1" stroke="#000" stroke-opacity="0.82" stroke-width="3.0" fill="none" stroke-linecap="round"/>
<path d="M398.8,154.8 Q404.6,155.3 410.4,154.6" stroke="#000" stroke-opacity="1.00" stroke-width="3.4" fill="none" stroke-linecap="round"/>
<rect x="398.80" y="150.00" width="11.60" height="3.00" rx="1.50" fill="#000" fill-opacity="0.22"/>
<rect x="398.80" y="142.45" width="11.60" height="3.50" rx="1.75" fill="#000" fill-opacity="0.10"/>
<path d="M415.9,148.9 Q420.8,149.2 425.6,148.3" stroke="#000" stroke-opacity="0.82" stroke-width="3.0" fill="none" stroke-linecap="round"/>
<path d="M415.9,155.4 Q420.8,155.7 425.6,154.8" stroke="#000" stroke-opacity="1.00" stroke-width="3.4" fill="none" stroke-linecap="round"/>
<rect x="415.90" y="150.40" width="9.70" height="3.00" rx="1.50" fill="#000" fill-opacity="0.22"/>
<rect x="415.90" y="142.85" width="9.70" height="3.50" rx="1.75" fill="#000" fill-opacity="0.10"/>
<path d="M431.3,148.3 Q436.8,148.8 442.2,148.1" stroke="#000" stroke-opacity="0.82" stroke-width="3.0" fill="none" stroke-linecap="round"/>
<path d="M431.3,154.8 Q436.8,155.3 442.2,154.6" stroke="#000" stroke-opacity="1.00" stroke-width="3.4" fill="none" stroke-linecap="round"/>
<rect x="431.30" y="150.00" width="10.90" height="3.00" rx="1.50" fill="#000" fill-opacity="0.22"/>
<rect x="431.30" y="142.45" width="10.90" height="3.50" rx="1.75" fill="#000" fill-opacity="0.10"/>
<path d="M448.5,148.3 Q455.9,148.8 463.2,148.1" stroke="#000" stroke-opacity="0.82" stroke-width="3.0" fill="none" stroke-linecap="round"/>
<path d="M448.5,154.8 Q455.9,155.3 463.2,154.6" stroke="#000" stroke-opacity="1.00" stroke-width="3.4" fill="none" stroke-linecap="round"/>
<rect x="448.50" y="150.00" width="14.70" height="3.00" rx="1.50" fill="#000" fill-opacity="0.22"/>
<rect x="448.50" y="142.45" width="14.70" height="3.50" rx="1.75" fill="#000" fill-opacity="0.10"/>
</g>
<rect x="239.10" y="74.20" width="228.10" height="25.30" fill="none" stroke="#000" stroke-width="1.7"/>
<rect x="239.10" y="105.80" width="228.10" height="25.60" fill="none" stroke="#000" stroke-width="1.7"/>
<rect x="239.10" y="137.20" width="228.10" height="25.20" fill="none" stroke="#000" stroke-width="1.7"/>
<text x="471.00" y="83.90" font-size="7.4" textLength="31.50" lengthAdjust="spacingAndGlyphs" class="nb">P-NR3C1</text>
<text x="471.00" y="94.40" font-size="7.4" textLength="24.50" lengthAdjust="spacingAndGlyphs" class="nb">Ser 211</text>
<text x="471.00" y="119.90" font-size="7.4" textLength="24.00" lengthAdjust="spacingAndGlyphs" class="nb">NR3C1</text>
<text x="471.00" y="153.20" font-size="7.4" textLength="25.30" lengthAdjust="spacingAndGlyphs" class="nb">ERK1/2</text>
<line x1="240.80" y1="228.70" x2="253.70" y2="228.70" stroke="#111" stroke-width="1.6"/>
<text x="247.25" y="224.50" font-size="7.2" text-anchor="middle" textLength="4.00" lengthAdjust="spacingAndGlyphs" class="nb">0</text>
<line x1="262.30" y1="228.70" x2="300.80" y2="228.70" stroke="#111" stroke-width="1.6"/>
<text x="281.55" y="224.50" font-size="7.2" text-anchor="middle" textLength="11.60" lengthAdjust="spacingAndGlyphs" class="nb">2hr</text>
<line x1="314.00" y1="228.70" x2="353.00" y2="228.70" stroke="#111" stroke-width="1.6"/>
<text x="333.50" y="224.50" font-size="7.2" text-anchor="middle" textLength="11.60" lengthAdjust="spacingAndGlyphs" class="nb">4hr</text>
<line x1="366.20" y1="228.70" x2="405.50" y2="228.70" stroke="#111" stroke-width="1.6"/>
<text x="385.85" y="224.50" font-size="7.2" text-anchor="middle" textLength="11.60" lengthAdjust="spacingAndGlyphs" class="nb">6hr</text>
<line x1="419.00" y1="228.70" x2="457.80" y2="228.70" stroke="#111" stroke-width="1.6"/>
<text x="438.40" y="224.50" font-size="7.2" text-anchor="middle" textLength="11.60" lengthAdjust="spacingAndGlyphs" class="nb">8hr</text>
<text x="236.80" y="239.90" font-size="7.2" text-anchor="end" textLength="16.00" lengthAdjust="spacingAndGlyphs" class="nb">DEX</text>
<text x="236.80" y="253.80" font-size="7.2" text-anchor="end" textLength="10.30" lengthAdjust="spacingAndGlyphs" class="nb">F/I</text>
<line x1="245.90" y1="237.40" x2="248.10" y2="237.40" stroke="#333" stroke-width="0.8"/>
<line x1="262.90" y1="237.40" x2="266.70" y2="237.40" stroke="#222" stroke-width="0.75"/>
<line x1="264.80" y1="235.50" x2="264.80" y2="239.30" stroke="#222" stroke-width="0.75"/>
<line x1="280.60" y1="237.40" x2="282.80" y2="237.40" stroke="#333" stroke-width="0.8"/>
<line x1="297.90" y1="237.40" x2="301.70" y2="237.40" stroke="#222" stroke-width="0.75"/>
<line x1="299.80" y1="235.50" x2="299.80" y2="239.30" stroke="#222" stroke-width="0.75"/>
<line x1="315.10" y1="237.40" x2="318.90" y2="237.40" stroke="#222" stroke-width="0.75"/>
<line x1="317.00" y1="235.50" x2="317.00" y2="239.30" stroke="#222" stroke-width="0.75"/>
<line x1="333.50" y1="237.40" x2="335.70" y2="237.40" stroke="#333" stroke-width="0.8"/>
<line x1="350.10" y1="237.40" x2="353.90" y2="237.40" stroke="#222" stroke-width="0.75"/>
<line x1="352.00" y1="235.50" x2="352.00" y2="239.30" stroke="#222" stroke-width="0.75"/>
<line x1="367.30" y1="237.40" x2="371.10" y2="237.40" stroke="#222" stroke-width="0.75"/>
<line x1="369.20" y1="235.50" x2="369.20" y2="239.30" stroke="#222" stroke-width="0.75"/>
<line x1="385.90" y1="237.40" x2="388.10" y2="237.40" stroke="#333" stroke-width="0.8"/>
<line x1="402.70" y1="237.40" x2="406.50" y2="237.40" stroke="#222" stroke-width="0.75"/>
<line x1="404.60" y1="235.50" x2="404.60" y2="239.30" stroke="#222" stroke-width="0.75"/>
<line x1="420.30" y1="237.40" x2="424.10" y2="237.40" stroke="#222" stroke-width="0.75"/>
<line x1="422.20" y1="235.50" x2="422.20" y2="239.30" stroke="#222" stroke-width="0.75"/>
<line x1="438.30" y1="237.40" x2="440.50" y2="237.40" stroke="#333" stroke-width="0.8"/>
<line x1="455.10" y1="237.40" x2="458.90" y2="237.40" stroke="#222" stroke-width="0.75"/>
<line x1="457.00" y1="235.50" x2="457.00" y2="239.30" stroke="#222" stroke-width="0.75"/>
<line x1="245.90" y1="251.30" x2="248.10" y2="251.30" stroke="#333" stroke-width="0.8"/>
<line x1="263.70" y1="251.30" x2="265.90" y2="251.30" stroke="#333" stroke-width="0.8"/>
<line x1="279.80" y1="251.30" x2="283.60" y2="251.30" stroke="#222" stroke-width="0.75"/>
<line x1="281.70" y1="249.40" x2="281.70" y2="253.20" stroke="#222" stroke-width="0.75"/>
<line x1="297.90" y1="251.30" x2="301.70" y2="251.30" stroke="#222" stroke-width="0.75"/>
<line x1="299.80" y1="249.40" x2="299.80" y2="253.20" stroke="#222" stroke-width="0.75"/>
<line x1="315.90" y1="251.30" x2="318.10" y2="251.30" stroke="#333" stroke-width="0.8"/>
<line x1="332.70" y1="251.30" x2="336.50" y2="251.30" stroke="#222" stroke-width="0.75"/>
<line x1="334.60" y1="249.40" x2="334.60" y2="253.20" stroke="#222" stroke-width="0.75"/>
<line x1="350.10" y1="251.30" x2="353.90" y2="251.30" stroke="#222" stroke-width="0.75"/>
<line x1="352.00" y1="249.40" x2="352.00" y2="253.20" stroke="#222" stroke-width="0.75"/>
<line x1="368.10" y1="251.30" x2="370.30" y2="251.30" stroke="#333" stroke-width="0.8"/>
<line x1="385.10" y1="251.30" x2="388.90" y2="251.30" stroke="#222" stroke-width="0.75"/>
<line x1="387.00" y1="249.40" x2="387.00" y2="253.20" stroke="#222" stroke-width="0.75"/>
<line x1="402.70" y1="251.30" x2="406.50" y2="251.30" stroke="#222" stroke-width="0.75"/>
<line x1="404.60" y1="249.40" x2="404.60" y2="253.20" stroke="#222" stroke-width="0.75"/>
<line x1="421.10" y1="251.30" x2="423.30" y2="251.30" stroke="#333" stroke-width="0.8"/>
<line x1="437.50" y1="251.30" x2="441.30" y2="251.30" stroke="#222" stroke-width="0.75"/>
<line x1="439.40" y1="249.40" x2="439.40" y2="253.20" stroke="#222" stroke-width="0.75"/>
<line x1="455.10" y1="251.30" x2="458.90" y2="251.30" stroke="#222" stroke-width="0.75"/>
<line x1="457.00" y1="249.40" x2="457.00" y2="253.20" stroke="#222" stroke-width="0.75"/>
<rect x="236.80" y="260.40" width="232.20" height="18.00" fill="#f1f1f1"/>
<rect x="236.80" y="285.80" width="232.20" height="20.00" fill="#fafafa"/>
<rect x="236.80" y="318.20" width="232.20" height="17.80" fill="#f8f8f8"/>
<g filter="url(#bl)">
<rect x="258.50" y="263.50" width="12.90" height="2.00" rx="1.00" fill="#000" fill-opacity="0.17"/>
<rect x="295.00" y="263.60" width="11.80" height="2.00" rx="1.00" fill="#000" fill-opacity="0.20"/>
<rect x="311.70" y="263.80" width="11.70" height="2.00" rx="1.00" fill="#000" fill-opacity="0.26"/>
<rect x="346.20" y="264.00" width="11.30" height="2.00" rx="1.00" fill="#000" fill-opacity="0.51"/>
<rect x="363.70" y="263.90" width="11.70" height="2.00" rx="1.00" fill="#000" fill-opacity="0.17"/>
<rect x="415.50" y="264.40" width="11.10" height="2.00" rx="1.00" fill="#000" fill-opacity="0.19"/>
<rect x="397.50" y="263.80" width="12.30" height="4.00" rx="2.00" fill="#000" fill-opacity="1.00"/>
<rect x="450.00" y="263.30" width="15.40" height="5.00" rx="2.50" fill="#000" fill-opacity="1.00"/>
<rect x="397.50" y="274.10" width="12.30" height="1.80" rx="0.90" fill="#000" fill-opacity="0.18"/>
<rect x="450.00" y="273.40" width="15.40" height="2.20" rx="1.10" fill="#000" fill-opacity="0.35"/>
<rect x="240.00" y="292.20" width="15.40" height="4.00" rx="2.00" fill="#000" fill-opacity="0.92"/>
<rect x="240.00" y="296.40" width="15.40" height="4.00" rx="2.00" fill="#000" fill-opacity="0.27"/>
<rect x="240.00" y="301.30" width="15.40" height="2.60" rx="1.30" fill="#000" fill-opacity="0.30"/>
<rect x="260.00" y="290.90" width="13.20" height="4.00" rx="2.00" fill="#000" fill-opacity="0.92"/>
<rect x="260.00" y="295.10" width="13.20" height="4.00" rx="2.00" fill="#000" fill-opacity="0.27"/>
<rect x="260.00" y="300.00" width="13.20" height="2.60" rx="1.30" fill="#000" fill-opacity="0.45"/>
<rect x="278.80" y="292.20" width="13.50" height="4.00" rx="2.00" fill="#000" fill-opacity="0.86"/>
<rect x="278.80" y="296.40" width="13.50" height="4.00" rx="2.00" fill="#000" fill-opacity="0.26"/>
<rect x="278.80" y="301.30" width="13.50" height="2.60" rx="1.30" fill="#000" fill-opacity="0.35"/>
<rect x="296.90" y="290.90" width="11.70" height="4.00" rx="2.00" fill="#000" fill-opacity="0.92"/>
<rect x="296.90" y="295.10" width="11.70" height="4.00" rx="2.00" fill="#000" fill-opacity="0.27"/>
<rect x="296.90" y="300.00" width="11.70" height="2.60" rx="1.30" fill="#000" fill-opacity="0.40"/>
<rect x="313.50" y="290.90" width="12.30" height="4.00" rx="2.00" fill="#000" fill-opacity="0.86"/>
<rect x="313.50" y="295.10" width="12.30" height="4.00" rx="2.00" fill="#000" fill-opacity="0.26"/>
<rect x="313.50" y="300.00" width="12.30" height="2.60" rx="1.30" fill="#000" fill-opacity="0.40"/>
<rect x="330.80" y="291.50" width="11.70" height="4.00" rx="2.00" fill="#000" fill-opacity="0.97"/>
<rect x="330.80" y="295.70" width="11.70" height="4.00" rx="2.00" fill="#000" fill-opacity="0.29"/>
<rect x="330.80" y="300.60" width="11.70" height="2.60" rx="1.30" fill="#000" fill-opacity="0.30"/>
<rect x="346.80" y="290.50" width="12.60" height="4.00" rx="2.00" fill="#000" fill-opacity="0.99"/>
<rect x="346.80" y="294.70" width="12.60" height="4.00" rx="2.00" fill="#000" fill-opacity="0.29"/>
<rect x="346.80" y="299.60" width="12.60" height="2.60" rx="1.30" fill="#000" fill-opacity="0.35"/>
<rect x="363.70" y="290.90" width="13.50" height="4.00" rx="2.00" fill="#000" fill-opacity="0.54"/>
<rect x="363.70" y="295.10" width="13.50" height="4.00" rx="2.00" fill="#000" fill-opacity="0.16"/>
<rect x="363.70" y="300.00" width="13.50" height="2.60" rx="1.30" fill="#000" fill-opacity="0.30"/>
<rect x="381.50" y="291.50" width="13.00" height="4.00" rx="2.00" fill="#000" fill-opacity="0.92"/>
<rect x="381.50" y="295.70" width="13.00" height="4.00" rx="2.00" fill="#000" fill-opacity="0.27"/>
<rect x="381.50" y="300.60" width="13.00" height="2.60" rx="1.30" fill="#000" fill-opacity="0.45"/>
<rect x="399.40" y="290.00" width="12.90" height="5.00" rx="2.50" fill="#000" fill-opacity="1.00"/>
<rect x="399.40" y="294.70" width="12.90" height="4.00" rx="2.00" fill="#000" fill-opacity="0.32"/>
<rect x="399.40" y="299.60" width="12.90" height="2.60" rx="1.30" fill="#000" fill-opacity="0.50"/>
<rect x="416.20" y="290.90" width="12.30" height="4.00" rx="2.00" fill="#000" fill-opacity="0.65"/>
<rect x="416.20" y="295.10" width="12.30" height="4.00" rx="2.00" fill="#000" fill-opacity="0.19"/>
<rect x="416.20" y="300.00" width="12.30" height="2.60" rx="1.30" fill="#000" fill-opacity="0.25"/>
<rect x="432.80" y="290.90" width="13.50" height="4.00" rx="2.00" fill="#000" fill-opacity="0.81"/>
<rect x="432.80" y="295.10" width="13.50" height="4.00" rx="2.00" fill="#000" fill-opacity="0.24"/>
<rect x="432.80" y="300.00" width="13.50" height="2.60" rx="1.30" fill="#000" fill-opacity="0.30"/>
<rect x="450.60" y="290.40" width="15.40" height="5.00" rx="2.50" fill="#000" fill-opacity="1.00"/>
<rect x="450.60" y="295.10" width="15.40" height="4.00" rx="2.00" fill="#000" fill-opacity="0.32"/>
<rect x="450.60" y="300.00" width="15.40" height="2.60" rx="1.30" fill="#000" fill-opacity="0.60"/>
</g>
<g filter="url(#bl2)">
<rect x="245.40" y="324.05" width="12.60" height="2.30" rx="1.15" fill="#000" fill-opacity="0.69"/>
<rect x="245.40" y="326.50" width="12.60" height="1.40" rx="0.70" fill="#000" fill-opacity="0.22"/>
<path d="M245.9,330.0 L257.5,328.6" stroke="#000" stroke-opacity="0.95" stroke-width="2.6" fill="none" stroke-linecap="round"/>
<rect x="264.30" y="322.25" width="12.70" height="2.30" rx="1.15" fill="#000" fill-opacity="0.88"/>
<rect x="264.30" y="324.70" width="12.70" height="1.40" rx="0.70" fill="#000" fill-opacity="0.28"/>
<rect x="264.30" y="326.00" width="12.70" height="2.80" rx="1.40" fill="#000" fill-opacity="1.00"/>
<rect x="281.70" y="322.25" width="12.00" height="2.30" rx="1.15" fill="#000" fill-opacity="0.88"/>
<rect x="281.70" y="324.70" width="12.00" height="1.40" rx="0.70" fill="#000" fill-opacity="0.28"/>
<rect x="281.70" y="326.00" width="12.00" height="2.80" rx="1.40" fill="#000" fill-opacity="1.00"/>
<rect x="299.90" y="321.95" width="11.90" height="2.30" rx="1.15" fill="#000" fill-opacity="0.75"/>
<rect x="299.90" y="324.40" width="11.90" height="1.40" rx="0.70" fill="#000" fill-opacity="0.24"/>
<rect x="299.90" y="325.70" width="11.90" height="2.80" rx="1.40" fill="#000" fill-opacity="0.99"/>
<rect x="315.90" y="321.75" width="11.90" height="2.30" rx="1.15" fill="#000" fill-opacity="1.00"/>
<rect x="315.90" y="324.20" width="11.90" height="1.40" rx="0.70" fill="#000" fill-opacity="0.34"/>
<rect x="315.90" y="325.50" width="11.90" height="2.80" rx="1.40" fill="#000" fill-opacity="1.00"/>
<rect x="332.50" y="321.75" width="11.30" height="2.30" rx="1.15" fill="#000" fill-opacity="1.00"/>
<rect x="332.50" y="324.20" width="11.30" height="1.40" rx="0.70" fill="#000" fill-opacity="0.34"/>
<rect x="332.50" y="325.50" width="11.30" height="2.80" rx="1.40" fill="#000" fill-opacity="1.00"/>
<rect x="348.50" y="322.25" width="11.60" height="2.30" rx="1.15" fill="#000" fill-opacity="1.00"/>
<rect x="348.50" y="324.70" width="11.60" height="1.40" rx="0.70" fill="#000" fill-opacity="0.38"/>
<rect x="348.50" y="326.00" width="11.60" height="2.80" rx="1.40" fill="#000" fill-opacity="1.00"/>
<rect x="365.40" y="321.95" width="12.60" height="2.30" rx="1.15" fill="#000" fill-opacity="0.94"/>
<rect x="365.40" y="324.40" width="12.60" height="1.40" rx="0.70" fill="#000" fill-opacity="0.30"/>
<rect x="365.40" y="325.70" width="12.60" height="2.80" rx="1.40" fill="#000" fill-opacity="1.00"/>
<rect x="382.70" y="321.65" width="12.50" height="2.30" rx="1.15" fill="#000" fill-opacity="0.56"/>
<rect x="382.70" y="324.10" width="12.50" height="1.40" rx="0.70" fill="#000" fill-opacity="0.18"/>
<rect x="382.70" y="325.40" width="12.50" height="2.80" rx="1.40" fill="#000" fill-opacity="0.88"/>
<rect x="399.90" y="321.65" width="12.60" height="2.30" rx="1.15" fill="#000" fill-opacity="0.62"/>
<rect x="399.90" y="324.10" width="12.60" height="1.40" rx="0.70" fill="#000" fill-opacity="0.20"/>
<rect x="399.90" y="325.40" width="12.60" height="2.80" rx="1.40" fill="#000" fill-opacity="0.94"/>
<rect x="417.30" y="321.55" width="11.90" height="2.30" rx="1.15" fill="#000" fill-opacity="0.75"/>
<rect x="417.30" y="324.00" width="11.90" height="1.40" rx="0.70" fill="#000" fill-opacity="0.24"/>
<rect x="417.30" y="325.30" width="11.90" height="2.80" rx="1.40" fill="#000" fill-opacity="0.94"/>
<rect x="433.90" y="321.55" width="12.50" height="2.30" rx="1.15" fill="#000" fill-opacity="0.88"/>
<rect x="433.90" y="324.00" width="12.50" height="1.40" rx="0.70" fill="#000" fill-opacity="0.28"/>
<rect x="433.90" y="325.30" width="12.50" height="2.80" rx="1.40" fill="#000" fill-opacity="1.00"/>
<rect x="451.70" y="321.55" width="12.60" height="2.30" rx="1.15" fill="#000" fill-opacity="0.44"/>
<rect x="451.70" y="324.00" width="12.60" height="1.40" rx="0.70" fill="#000" fill-opacity="0.14"/>
<rect x="451.70" y="325.30" width="12.60" height="2.80" rx="1.40" fill="#000" fill-opacity="0.83"/>
</g>
<rect x="236.80" y="260.40" width="232.20" height="18.00" fill="none" stroke="#000" stroke-width="1.7"/>
<rect x="236.80" y="285.80" width="232.20" height="20.00" fill="none" stroke="#000" stroke-width="1.7"/>
<rect x="236.80" y="318.20" width="232.20" height="17.80" fill="none" stroke="#000" stroke-width="1.7"/>
<text x="474.20" y="268.40" font-size="7.4" textLength="31.50" lengthAdjust="spacingAndGlyphs" class="nb">P-NR3C1</text>
<text x="474.20" y="278.20" font-size="7.4" textLength="24.50" lengthAdjust="spacingAndGlyphs" class="nb">Ser 211</text>
<text x="474.20" y="298.40" font-size="7.4" textLength="24.00" lengthAdjust="spacingAndGlyphs" class="nb">NR3C1</text>
<text x="474.20" y="328.80" font-size="7.4" textLength="25.30" lengthAdjust="spacingAndGlyphs" class="nb">ERK1/2</text>
<line x1="84.00" y1="422.80" x2="84.00" y2="525.00" stroke="#000" stroke-width="1.6"/>
<line x1="79.40" y1="524.30" x2="84.00" y2="524.30" stroke="#000" stroke-width="1.3"/>
<text x="75.60" y="527.31" font-size="8.6" text-anchor="end" textLength="4.30" lengthAdjust="spacingAndGlyphs">0</text>
<line x1="79.40" y1="504.82" x2="84.00" y2="504.82" stroke="#000" stroke-width="1.3"/>
<text x="75.60" y="507.83" font-size="8.6" text-anchor="end" textLength="4.30" lengthAdjust="spacingAndGlyphs">1</text>
<line x1="79.40" y1="485.34" x2="84.00" y2="485.34" stroke="#000" stroke-width="1.3"/>
<text x="75.60" y="488.35" font-size="8.6" text-anchor="end" textLength="4.30" lengthAdjust="spacingAndGlyphs">2</text>
<line x1="79.40" y1="465.86" x2="84.00" y2="465.86" stroke="#000" stroke-width="1.3"/>
<text x="75.60" y="468.87" font-size="8.6" text-anchor="end" textLength="4.30" lengthAdjust="spacingAndGlyphs">3</text>
<line x1="79.40" y1="446.38" x2="84.00" y2="446.38" stroke="#000" stroke-width="1.3"/>
<text x="75.60" y="449.39" font-size="8.6" text-anchor="end" textLength="4.30" lengthAdjust="spacingAndGlyphs">4</text>
<line x1="79.40" y1="426.90" x2="84.00" y2="426.90" stroke="#000" stroke-width="1.3"/>
<text x="75.60" y="429.91" font-size="8.6" text-anchor="end" textLength="4.30" lengthAdjust="spacingAndGlyphs">5</text>
<line x1="83.20" y1="524.30" x2="160.00" y2="524.30" stroke="#000" stroke-width="1.7"/>
<rect x="90.80" y="506.00" width="10.00" height="17.70" fill="#a3002a"/>
<rect x="91.10" y="506.00" width="1.00" height="17.70" fill="#960020"/>
<rect x="99.50" y="506.00" width="1.00" height="17.70" fill="#960020"/>
<line x1="113.20" y1="463.60" x2="113.20" y2="472.00" stroke="#111" stroke-width="1.3"/>
<line x1="110.30" y1="463.60" x2="116.10" y2="463.60" stroke="#111" stroke-width="1.3"/>
<rect x="108.20" y="471.50" width="10.00" height="52.20" fill="#2f4b82"/>
<rect x="108.50" y="471.50" width="1.00" height="52.20" fill="#1f3a72"/>
<rect x="116.90" y="471.50" width="1.00" height="52.20" fill="#1f3a72"/>
<line x1="130.60" y1="492.70" x2="130.60" y2="495.50" stroke="#111" stroke-width="1.3"/>
<line x1="127.70" y1="492.70" x2="133.50" y2="492.70" stroke="#111" stroke-width="1.3"/>
<rect x="125.60" y="495.00" width="10.00" height="28.70" fill="#a3002a"/>
<rect x="125.90" y="495.00" width="1.00" height="28.70" fill="#960020"/>
<rect x="134.30" y="495.00" width="1.00" height="28.70" fill="#960020"/>
<line x1="148.00" y1="431.80" x2="148.00" y2="437.90" stroke="#111" stroke-width="1.3"/>
<line x1="145.10" y1="431.80" x2="150.90" y2="431.80" stroke="#111" stroke-width="1.3"/>
<rect x="143.00" y="437.40" width="10.00" height="86.30" fill="#2f4b82"/>
<rect x="143.30" y="437.40" width="1.00" height="86.30" fill="#1f3a72"/>
<rect x="151.70" y="437.40" width="1.00" height="86.30" fill="#1f3a72"/>
<polyline points="95.00,449.80 95.00,408.60 146.80,408.60 146.80,411.00" fill="none" stroke="#111" stroke-width="1.3"/>
<circle cx="117.00" cy="404.50" r="1.05" fill="#2a2a2a"/>
<circle cx="120.60" cy="404.50" r="1.05" fill="#2a2a2a"/>
<circle cx="124.20" cy="404.50" r="1.05" fill="#2a2a2a"/>
<polyline points="111.10,448.10 111.10,415.80 146.80,415.80 146.80,418.20" fill="none" stroke="#111" stroke-width="1.3"/>
<circle cx="128.70" cy="412.60" r="1.05" fill="#2a2a2a"/>
<polyline points="130.30,428.50 148.10,428.50" fill="none" stroke="#111" stroke-width="1.3"/>
<circle cx="135.80" cy="425.00" r="1.05" fill="#2a2a2a"/>
<circle cx="139.40" cy="425.00" r="1.05" fill="#2a2a2a"/>
<circle cx="143.00" cy="425.00" r="1.05" fill="#2a2a2a"/>
<polyline points="95.30,461.90 113.10,461.90" fill="none" stroke="#111" stroke-width="1.3"/>
<circle cx="100.80" cy="457.80" r="1.05" fill="#2a2a2a"/>
<circle cx="104.40" cy="457.80" r="1.05" fill="#2a2a2a"/>
<circle cx="108.00" cy="457.80" r="1.05" fill="#2a2a2a"/>
<text x="104.20" y="536.40" font-size="8.2" text-anchor="middle" textLength="24.00" lengthAdjust="spacingAndGlyphs">DMSO</text>
<text x="139.00" y="536.40" font-size="8.2" text-anchor="middle" textLength="15.30" lengthAdjust="spacingAndGlyphs">DEX</text>
<text transform="translate(50.00,474.00) rotate(-90) skewX(-5)" x="0" y="0" font-size="10.8" text-anchor="middle" textLength="26.50" lengthAdjust="spacingAndGlyphs" font-style="italic">NR3C1</text>
<text transform="translate(62.60,473.10) rotate(-90)" x="0" y="0" font-size="11" text-anchor="middle" textLength="93.00" lengthAdjust="spacingAndGlyphs">relative expression (AU)</text>
<line x1="222.80" y1="422.50" x2="222.80" y2="525.00" stroke="#000" stroke-width="1.6"/>
<line x1="218.20" y1="524.30" x2="222.80" y2="524.30" stroke="#000" stroke-width="1.3"/>
<text x="213.30" y="527.31" font-size="8.6" text-anchor="end" textLength="4.30" lengthAdjust="spacingAndGlyphs">0</text>
<line x1="218.20" y1="491.80" x2="222.80" y2="491.80" stroke="#000" stroke-width="1.3"/>
<text x="213.30" y="494.81" font-size="8.6" text-anchor="end" textLength="4.30" lengthAdjust="spacingAndGlyphs">5</text>
<line x1="218.20" y1="459.30" x2="222.80" y2="459.30" stroke="#000" stroke-width="1.3"/>
<text x="213.30" y="462.31" font-size="8.6" text-anchor="end" textLength="8.60" lengthAdjust="spacingAndGlyphs">10</text>
<line x1="218.20" y1="426.80" x2="222.80" y2="426.80" stroke="#000" stroke-width="1.3"/>
<text x="213.30" y="429.81" font-size="8.6" text-anchor="end" textLength="8.60" lengthAdjust="spacingAndGlyphs">15</text>
<line x1="222.00" y1="524.30" x2="298.80" y2="524.30" stroke="#000" stroke-width="1.7"/>
<rect x="229.30" y="518.90" width="10.00" height="4.80" fill="#a3002a"/>
<rect x="229.60" y="518.90" width="1.00" height="4.80" fill="#960020"/>
<rect x="238.00" y="518.90" width="1.00" height="4.80" fill="#960020"/>
<line x1="251.70" y1="511.00" x2="251.70" y2="512.80" stroke="#111" stroke-width="1.3"/>
<line x1="248.80" y1="511.00" x2="254.60" y2="511.00" stroke="#111" stroke-width="1.3"/>
<rect x="246.70" y="512.30" width="10.00" height="11.40" fill="#2f4b82"/>
<rect x="247.00" y="512.30" width="1.00" height="11.40" fill="#1f3a72"/>
<rect x="255.40" y="512.30" width="1.00" height="11.40" fill="#1f3a72"/>
<line x1="269.10" y1="498.50" x2="269.10" y2="501.70" stroke="#111" stroke-width="1.3"/>
<line x1="266.20" y1="498.50" x2="272.00" y2="498.50" stroke="#111" stroke-width="1.3"/>
<rect x="264.10" y="501.20" width="10.00" height="22.50" fill="#a3002a"/>
<rect x="264.40" y="501.20" width="1.00" height="22.50" fill="#960020"/>
<rect x="272.80" y="501.20" width="1.00" height="22.50" fill="#960020"/>
<line x1="286.50" y1="440.90" x2="286.50" y2="465.00" stroke="#111" stroke-width="1.3"/>
<line x1="283.60" y1="440.90" x2="289.40" y2="440.90" stroke="#111" stroke-width="1.3"/>
<rect x="281.50" y="464.50" width="10.00" height="59.20" fill="#2f4b82"/>
<rect x="281.80" y="464.50" width="1.00" height="59.20" fill="#1f3a72"/>
<rect x="290.20" y="464.50" width="1.00" height="59.20" fill="#1f3a72"/>
<polyline points="236.70,468.70 269.00,468.70" fill="none" stroke="#111" stroke-width="1.3"/>
<polyline points="253.40,468.70 253.40,434.40 287.20,434.40 287.20,436.80" fill="none" stroke="#111" stroke-width="1.3"/>
<circle cx="270.20" cy="431.00" r="1.05" fill="#2a2a2a"/>
<text x="243.00" y="536.40" font-size="8.2" text-anchor="middle" textLength="24.00" lengthAdjust="spacingAndGlyphs">DMSO</text>
<text x="277.80" y="536.40" font-size="8.2" text-anchor="middle" textLength="15.30" lengthAdjust="spacingAndGlyphs">DEX</text>
<text transform="translate(184.10,473.80) rotate(-90) skewX(-5)" x="0" y="0" font-size="10.8" text-anchor="middle" textLength="19.50" lengthAdjust="spacingAndGlyphs" font-style="italic">BTG1</text>
<text transform="translate(196.90,473.50) rotate(-90)" x="0" y="0" font-size="11" text-anchor="middle" textLength="93.00" lengthAdjust="spacingAndGlyphs">relative expression (AU)</text>
<line x1="363.70" y1="423.00" x2="363.70" y2="524.90" stroke="#000" stroke-width="1.6"/>
<line x1="359.10" y1="524.20" x2="363.70" y2="524.20" stroke="#000" stroke-width="1.3"/>
<text x="355.20" y="527.21" font-size="8.6" text-anchor="end" textLength="4.30" lengthAdjust="spacingAndGlyphs">0</text>
<line x1="359.10" y1="491.85" x2="363.70" y2="491.85" stroke="#000" stroke-width="1.3"/>
<text x="355.20" y="494.86" font-size="8.6" text-anchor="end" textLength="4.30" lengthAdjust="spacingAndGlyphs">5</text>
<line x1="359.10" y1="459.50" x2="363.70" y2="459.50" stroke="#000" stroke-width="1.3"/>
<text x="355.20" y="462.51" font-size="8.6" text-anchor="end" textLength="8.60" lengthAdjust="spacingAndGlyphs">10</text>
<line x1="359.10" y1="427.15" x2="363.70" y2="427.15" stroke="#000" stroke-width="1.3"/>
<text x="355.20" y="430.16" font-size="8.6" text-anchor="end" textLength="8.60" lengthAdjust="spacingAndGlyphs">15</text>
<line x1="362.90" y1="524.20" x2="439.70" y2="524.20" stroke="#000" stroke-width="1.7"/>
<rect x="370.50" y="518.60" width="10.00" height="5.00" fill="#a3002a"/>
<rect x="370.80" y="518.60" width="1.00" height="5.00" fill="#960020"/>
<rect x="379.20" y="518.60" width="1.00" height="5.00" fill="#960020"/>
<line x1="392.90" y1="499.50" x2="392.90" y2="505.20" stroke="#111" stroke-width="1.3"/>
<line x1="390.00" y1="499.50" x2="395.80" y2="499.50" stroke="#111" stroke-width="1.3"/>
<rect x="387.90" y="504.70" width="10.00" height="18.90" fill="#2f4b82"/>
<rect x="388.20" y="504.70" width="1.00" height="18.90" fill="#1f3a72"/>
<rect x="396.60" y="504.70" width="1.00" height="18.90" fill="#1f3a72"/>
<line x1="410.30" y1="508.50" x2="410.30" y2="512.10" stroke="#111" stroke-width="1.3"/>
<line x1="407.40" y1="508.50" x2="413.20" y2="508.50" stroke="#111" stroke-width="1.3"/>
<rect x="405.30" y="511.60" width="10.00" height="12.00" fill="#a3002a"/>
<rect x="405.60" y="511.60" width="1.00" height="12.00" fill="#960020"/>
<rect x="414.00" y="511.60" width="1.00" height="12.00" fill="#960020"/>
<line x1="427.70" y1="441.00" x2="427.70" y2="450.20" stroke="#111" stroke-width="1.3"/>
<line x1="424.80" y1="441.00" x2="430.60" y2="441.00" stroke="#111" stroke-width="1.3"/>
<rect x="422.70" y="449.70" width="10.00" height="73.90" fill="#2f4b82"/>
<rect x="423.00" y="449.70" width="1.00" height="73.90" fill="#1f3a72"/>
<rect x="431.40" y="449.70" width="1.00" height="73.90" fill="#1f3a72"/>
<polyline points="376.30,480.20 408.20,480.20" fill="none" stroke="#111" stroke-width="1.3"/>
<polyline points="393.00,480.20 393.00,435.50 428.30,435.50 428.30,437.90" fill="none" stroke="#111" stroke-width="1.3"/>
<circle cx="407.40" cy="432.00" r="1.05" fill="#2a2a2a"/>
<circle cx="411.00" cy="432.00" r="1.05" fill="#2a2a2a"/>
<circle cx="414.60" cy="432.00" r="1.05" fill="#2a2a2a"/>
<text x="383.90" y="536.40" font-size="8.2" text-anchor="middle" textLength="24.00" lengthAdjust="spacingAndGlyphs">DMSO</text>
<text x="418.70" y="536.40" font-size="8.2" text-anchor="middle" textLength="15.30" lengthAdjust="spacingAndGlyphs">DEX</text>
<text transform="translate(325.00,473.80) rotate(-90) skewX(-5)" x="0" y="0" font-size="10.8" text-anchor="middle" textLength="33.60" lengthAdjust="spacingAndGlyphs" font-style="italic">BCL2L11</text>
<text transform="translate(339.10,473.50) rotate(-90)" x="0" y="0" font-size="11" text-anchor="middle" textLength="93.00" lengthAdjust="spacingAndGlyphs">relative expression (AU)</text>
<rect x="370.00" y="409.50" width="8.80" height="3.60" fill="#a3002a"/>
<text x="383.50" y="414.30" font-size="8.4" textLength="24.20" lengthAdjust="spacingAndGlyphs">DMSO</text>
<rect x="370.00" y="420.00" width="8.80" height="3.60" fill="#2f4b82"/>
<text x="383.50" y="424.80" font-size="8.4" textLength="70.70" lengthAdjust="spacingAndGlyphs">Forskolin and IBMX</text>
<line x1="83.90" y1="552.20" x2="83.90" y2="600.90" stroke="#000" stroke-width="1.6"/>
<line x1="83.90" y1="608.70" x2="83.90" y2="654.00" stroke="#000" stroke-width="1.6"/>
<line x1="79.30" y1="653.30" x2="83.90" y2="653.30" stroke="#000" stroke-width="1.3"/>
<text x="74.90" y="656.31" font-size="8.6" text-anchor="end" textLength="4.30" lengthAdjust="spacingAndGlyphs">0</text>
<line x1="79.30" y1="642.15" x2="83.90" y2="642.15" stroke="#000" stroke-width="1.3"/>
<text x="74.90" y="645.16" font-size="8.6" text-anchor="end" textLength="8.60" lengthAdjust="spacingAndGlyphs">50</text>
<line x1="79.30" y1="631.00" x2="83.90" y2="631.00" stroke="#000" stroke-width="1.3"/>
<text x="74.90" y="634.01" font-size="8.6" text-anchor="end" textLength="12.90" lengthAdjust="spacingAndGlyphs">100</text>
<line x1="79.30" y1="619.85" x2="83.90" y2="619.85" stroke="#000" stroke-width="1.3"/>
<text x="74.90" y="622.86" font-size="8.6" text-anchor="end" textLength="12.90" lengthAdjust="spacingAndGlyphs">150</text>
<line x1="79.30" y1="608.70" x2="83.90" y2="608.70" stroke="#000" stroke-width="1.3"/>
<text x="74.90" y="611.71" font-size="8.6" text-anchor="end" textLength="12.90" lengthAdjust="spacingAndGlyphs">200</text>
<line x1="79.30" y1="600.90" x2="83.90" y2="600.90" stroke="#000" stroke-width="1.3"/>
<text x="74.90" y="603.91" font-size="8.6" text-anchor="end" textLength="12.90" lengthAdjust="spacingAndGlyphs">800</text>
<line x1="79.30" y1="578.50" x2="83.90" y2="578.50" stroke="#000" stroke-width="1.3"/>
<text x="74.90" y="581.51" font-size="8.6" text-anchor="end" textLength="17.20" lengthAdjust="spacingAndGlyphs">1000</text>
<line x1="79.30" y1="556.10" x2="83.90" y2="556.10" stroke="#000" stroke-width="1.3"/>
<text x="74.90" y="559.11" font-size="8.6" text-anchor="end" textLength="17.20" lengthAdjust="spacingAndGlyphs">1200</text>
<line x1="79.30" y1="600.90" x2="88.50" y2="600.90" stroke="#000" stroke-width="1.3"/>
<line x1="79.30" y1="608.70" x2="88.50" y2="608.70" stroke="#000" stroke-width="1.3"/>
<line x1="83.10" y1="653.30" x2="159.90" y2="653.30" stroke="#000" stroke-width="1.7"/>
<line x1="113.10" y1="651.00" x2="113.10" y2="653.00" stroke="#111" stroke-width="1.3"/>
<line x1="110.20" y1="651.00" x2="116.00" y2="651.00" stroke="#111" stroke-width="1.3"/>
<rect x="108.10" y="652.50" width="10.00" height="0.20" fill="#2f4b82"/>
<line x1="130.50" y1="620.60" x2="130.50" y2="632.50" stroke="#111" stroke-width="1.3"/>
<line x1="127.60" y1="620.60" x2="133.40" y2="620.60" stroke="#111" stroke-width="1.3"/>
<rect x="125.50" y="632.00" width="10.00" height="20.70" fill="#a3002a"/>
<rect x="125.80" y="632.00" width="1.00" height="20.70" fill="#960020"/>
<rect x="134.20" y="632.00" width="1.00" height="20.70" fill="#960020"/>
<line x1="147.90" y1="570.60" x2="147.90" y2="581.70" stroke="#111" stroke-width="1.3"/>
<line x1="145.00" y1="570.60" x2="150.80" y2="570.60" stroke="#111" stroke-width="1.3"/>
<rect x="142.90" y="608.70" width="10.00" height="44.00" fill="#2f4b82"/>
<rect x="143.20" y="608.70" width="1.00" height="44.00" fill="#1f3a72"/>
<rect x="151.60" y="608.70" width="1.00" height="44.00" fill="#1f3a72"/>
<rect x="142.90" y="581.20" width="10.00" height="19.80" fill="#2f4b82"/>
<rect x="143.20" y="581.20" width="1.00" height="19.80" fill="#1f3a72"/>
<rect x="151.60" y="581.20" width="1.00" height="19.80" fill="#1f3a72"/>
<polyline points="97.60,598.90 129.60,598.90" fill="none" stroke="#111" stroke-width="1.3"/>
<polyline points="114.20,598.90 114.20,565.30 148.50,565.30 148.50,567.70" fill="none" stroke="#111" stroke-width="1.3"/>
<circle cx="127.20" cy="562.00" r="1.05" fill="#2a2a2a"/>
<circle cx="130.80" cy="562.00" r="1.05" fill="#2a2a2a"/>
<circle cx="134.40" cy="562.00" r="1.05" fill="#2a2a2a"/>
<text x="104.10" y="665.10" font-size="8.2" text-anchor="middle" textLength="24.00" lengthAdjust="spacingAndGlyphs">DMSO</text>
<text x="138.90" y="665.10" font-size="8.2" text-anchor="middle" textLength="15.30" lengthAdjust="spacingAndGlyphs">DEX</text>
<text transform="translate(35.80,602.60) rotate(-90) skewX(-5)" x="0" y="0" font-size="10.8" text-anchor="middle" textLength="35.70" lengthAdjust="spacingAndGlyphs" font-style="italic">TSC22D3</text>
<text transform="translate(49.70,602.90) rotate(-90)" x="0" y="0" font-size="11" text-anchor="middle" textLength="93.00" lengthAdjust="spacingAndGlyphs">relative expression (AU)</text>
<line x1="222.90" y1="551.70" x2="222.90" y2="654.00" stroke="#000" stroke-width="1.6"/>
<line x1="218.30" y1="653.30" x2="222.90" y2="653.30" stroke="#000" stroke-width="1.3"/>
<text x="213.70" y="656.31" font-size="8.6" text-anchor="end" textLength="4.30" lengthAdjust="spacingAndGlyphs">0</text>
<line x1="218.30" y1="629.02" x2="222.90" y2="629.02" stroke="#000" stroke-width="1.3"/>
<text x="213.70" y="632.03" font-size="8.6" text-anchor="end" textLength="4.30" lengthAdjust="spacingAndGlyphs">5</text>
<line x1="218.30" y1="604.75" x2="222.90" y2="604.75" stroke="#000" stroke-width="1.3"/>
<text x="213.70" y="607.76" font-size="8.6" text-anchor="end" textLength="8.60" lengthAdjust="spacingAndGlyphs">10</text>
<line x1="218.30" y1="580.47" x2="222.90" y2="580.47" stroke="#000" stroke-width="1.3"/>
<text x="213.70" y="583.48" font-size="8.6" text-anchor="end" textLength="8.60" lengthAdjust="spacingAndGlyphs">15</text>
<line x1="218.30" y1="556.20" x2="222.90" y2="556.20" stroke="#000" stroke-width="1.3"/>
<text x="213.70" y="559.21" font-size="8.6" text-anchor="end" textLength="8.60" lengthAdjust="spacingAndGlyphs">20</text>
<line x1="222.10" y1="653.30" x2="298.90" y2="653.30" stroke="#000" stroke-width="1.7"/>
<rect x="229.35" y="649.40" width="10.00" height="3.30" fill="#a3002a"/>
<rect x="229.65" y="649.40" width="1.00" height="3.30" fill="#960020"/>
<rect x="238.05" y="649.40" width="1.00" height="3.30" fill="#960020"/>
<line x1="251.75" y1="640.00" x2="251.75" y2="643.60" stroke="#111" stroke-width="1.3"/>
<line x1="248.85" y1="640.00" x2="254.65" y2="640.00" stroke="#111" stroke-width="1.3"/>
<rect x="246.75" y="643.10" width="10.00" height="9.60" fill="#2f4b82"/>
<rect x="247.05" y="643.10" width="1.00" height="9.60" fill="#1f3a72"/>
<rect x="255.45" y="643.10" width="1.00" height="9.60" fill="#1f3a72"/>
<line x1="269.15" y1="632.40" x2="269.15" y2="636.00" stroke="#111" stroke-width="1.3"/>
<line x1="266.25" y1="632.40" x2="272.05" y2="632.40" stroke="#111" stroke-width="1.3"/>
<rect x="264.15" y="635.50" width="10.00" height="17.20" fill="#a3002a"/>
<rect x="264.45" y="635.50" width="1.00" height="17.20" fill="#960020"/>
<rect x="272.85" y="635.50" width="1.00" height="17.20" fill="#960020"/>
<line x1="286.55" y1="569.80" x2="286.55" y2="589.00" stroke="#111" stroke-width="1.3"/>
<line x1="283.65" y1="569.80" x2="289.45" y2="569.80" stroke="#111" stroke-width="1.3"/>
<rect x="281.55" y="588.50" width="10.00" height="64.20" fill="#2f4b82"/>
<rect x="281.85" y="588.50" width="1.00" height="64.20" fill="#1f3a72"/>
<rect x="290.25" y="588.50" width="1.00" height="64.20" fill="#1f3a72"/>
<polyline points="235.80,624.10 268.00,624.10" fill="none" stroke="#111" stroke-width="1.3"/>
<polyline points="251.30,624.10 251.30,563.20 287.70,563.20 287.70,565.60" fill="none" stroke="#111" stroke-width="1.3"/>
<circle cx="269.30" cy="560.00" r="1.05" fill="#2a2a2a"/>
<text x="243.10" y="665.10" font-size="8.2" text-anchor="middle" textLength="24.00" lengthAdjust="spacingAndGlyphs">DMSO</text>
<text x="277.90" y="665.10" font-size="8.2" text-anchor="middle" textLength="15.30" lengthAdjust="spacingAndGlyphs">DEX</text>
<text transform="translate(183.90,602.90) rotate(-90) skewX(-5)" x="0" y="0" font-size="10.8" text-anchor="middle" textLength="33.70" lengthAdjust="spacingAndGlyphs" font-style="italic">ZFP36L2</text>
<text transform="translate(197.10,602.90) rotate(-90)" x="0" y="0" font-size="11" text-anchor="middle" textLength="93.00" lengthAdjust="spacingAndGlyphs">relative expression (AU)</text>
<line x1="364.10" y1="551.70" x2="364.10" y2="653.90" stroke="#000" stroke-width="1.6"/>
<line x1="359.50" y1="653.20" x2="364.10" y2="653.20" stroke="#000" stroke-width="1.3"/>
<text x="352.80" y="656.21" font-size="8.6" text-anchor="end" textLength="4.30" lengthAdjust="spacingAndGlyphs">0</text>
<line x1="359.50" y1="620.75" x2="364.10" y2="620.75" stroke="#000" stroke-width="1.3"/>
<text x="352.80" y="623.76" font-size="8.6" text-anchor="end" textLength="4.30" lengthAdjust="spacingAndGlyphs">5</text>
<line x1="359.50" y1="588.30" x2="364.10" y2="588.30" stroke="#000" stroke-width="1.3"/>
<text x="352.80" y="591.31" font-size="8.6" text-anchor="end" textLength="8.60" lengthAdjust="spacingAndGlyphs">10</text>
<line x1="359.50" y1="555.85" x2="364.10" y2="555.85" stroke="#000" stroke-width="1.3"/>
<text x="352.80" y="558.86" font-size="8.6" text-anchor="end" textLength="8.60" lengthAdjust="spacingAndGlyphs">15</text>
<line x1="363.30" y1="653.20" x2="440.10" y2="653.20" stroke="#000" stroke-width="1.7"/>
<rect x="370.90" y="648.00" width="10.00" height="4.60" fill="#a3002a"/>
<rect x="371.20" y="648.00" width="1.00" height="4.60" fill="#960020"/>
<rect x="379.60" y="648.00" width="1.00" height="4.60" fill="#960020"/>
<line x1="393.30" y1="633.70" x2="393.30" y2="637.30" stroke="#111" stroke-width="1.3"/>
<line x1="390.40" y1="633.70" x2="396.20" y2="633.70" stroke="#111" stroke-width="1.3"/>
<rect x="388.30" y="636.80" width="10.00" height="15.80" fill="#2f4b82"/>
<rect x="388.60" y="636.80" width="1.00" height="15.80" fill="#1f3a72"/>
<rect x="397.00" y="636.80" width="1.00" height="15.80" fill="#1f3a72"/>
<line x1="410.70" y1="618.60" x2="410.70" y2="623.80" stroke="#111" stroke-width="1.3"/>
<line x1="407.80" y1="618.60" x2="413.60" y2="618.60" stroke="#111" stroke-width="1.3"/>
<rect x="405.70" y="623.30" width="10.00" height="29.30" fill="#a3002a"/>
<rect x="406.00" y="623.30" width="1.00" height="29.30" fill="#960020"/>
<rect x="414.40" y="623.30" width="1.00" height="29.30" fill="#960020"/>
<line x1="428.10" y1="590.40" x2="428.10" y2="599.50" stroke="#111" stroke-width="1.3"/>
<line x1="425.20" y1="590.40" x2="431.00" y2="590.40" stroke="#111" stroke-width="1.3"/>
<rect x="423.10" y="599.00" width="10.00" height="53.60" fill="#2f4b82"/>
<rect x="423.40" y="599.00" width="1.00" height="53.60" fill="#1f3a72"/>
<rect x="431.80" y="599.00" width="1.00" height="53.60" fill="#1f3a72"/>
<polyline points="375.80,624.20 375.80,564.40 429.40,564.40 429.40,568.40" fill="none" stroke="#111" stroke-width="1.3"/>
<circle cx="400.80" cy="560.50" r="1.05" fill="#2a2a2a"/>
<circle cx="404.40" cy="560.50" r="1.05" fill="#2a2a2a"/>
<polyline points="392.70,619.80 392.70,572.20 429.40,572.20 429.40,575.70" fill="none" stroke="#111" stroke-width="1.3"/>
<circle cx="410.70" cy="570.20" r="1.05" fill="#2a2a2a"/>
<polyline points="410.00,613.40 410.00,580.00 429.40,580.00 429.40,583.50" fill="none" stroke="#111" stroke-width="1.3"/>
<circle cx="417.20" cy="577.80" r="1.05" fill="#2a2a2a"/>
<circle cx="420.80" cy="577.80" r="1.05" fill="#2a2a2a"/>
<polyline points="374.40,631.00 374.40,628.50 393.40,628.50 393.40,631.00" fill="none" stroke="#111" stroke-width="1.3"/>
<circle cx="383.60" cy="625.50" r="1.05" fill="#2a2a2a"/>
<text x="384.30" y="665.10" font-size="8.2" text-anchor="middle" textLength="24.00" lengthAdjust="spacingAndGlyphs">DMSO</text>
<text x="419.10" y="665.10" font-size="8.2" text-anchor="middle" textLength="15.30" lengthAdjust="spacingAndGlyphs">DEX</text>
<text transform="translate(322.30,602.90) rotate(-90) skewX(-5)" x="0" y="0" font-size="10.8" text-anchor="middle" textLength="24.20" lengthAdjust="spacingAndGlyphs" font-style="italic">KLF13</text>
<text transform="translate(335.40,602.90) rotate(-90)" x="0" y="0" font-size="11" text-anchor="middle" textLength="93.00" lengthAdjust="spacingAndGlyphs">relative expression (AU)</text>
<line x1="84.00" y1="728.00" x2="84.00" y2="830.30" stroke="#000" stroke-width="1.6"/>
<line x1="79.40" y1="829.60" x2="84.00" y2="829.60" stroke="#000" stroke-width="1.3"/>
<text x="75.40" y="832.61" font-size="8.6" text-anchor="end" textLength="4.30" lengthAdjust="spacingAndGlyphs">0</text>
<line x1="79.40" y1="805.25" x2="84.00" y2="805.25" stroke="#000" stroke-width="1.3"/>
<text x="75.40" y="808.26" font-size="8.6" text-anchor="end" textLength="4.30" lengthAdjust="spacingAndGlyphs">1</text>
<line x1="79.40" y1="780.90" x2="84.00" y2="780.90" stroke="#000" stroke-width="1.3"/>
<text x="75.40" y="783.91" font-size="8.6" text-anchor="end" textLength="4.30" lengthAdjust="spacingAndGlyphs">2</text>
<line x1="79.40" y1="756.55" x2="84.00" y2="756.55" stroke="#000" stroke-width="1.3"/>
<text x="75.40" y="759.56" font-size="8.6" text-anchor="end" textLength="4.30" lengthAdjust="spacingAndGlyphs">3</text>
<line x1="79.40" y1="732.20" x2="84.00" y2="732.20" stroke="#000" stroke-width="1.3"/>
<text x="75.40" y="735.21" font-size="8.6" text-anchor="end" textLength="4.30" lengthAdjust="spacingAndGlyphs">4</text>
<line x1="83.20" y1="829.60" x2="160.00" y2="829.60" stroke="#000" stroke-width="1.7"/>
<rect x="90.80" y="806.30" width="10.00" height="22.70" fill="#a3002a"/>
<rect x="91.10" y="806.30" width="1.00" height="22.70" fill="#960020"/>
<rect x="99.50" y="806.30" width="1.00" height="22.70" fill="#960020"/>
<line x1="113.20" y1="785.70" x2="113.20" y2="792.60" stroke="#111" stroke-width="1.3"/>
<line x1="110.30" y1="785.70" x2="116.10" y2="785.70" stroke="#111" stroke-width="1.3"/>
<rect x="108.20" y="792.10" width="10.00" height="36.90" fill="#2f4b82"/>
<rect x="108.50" y="792.10" width="1.00" height="36.90" fill="#1f3a72"/>
<rect x="116.90" y="792.10" width="1.00" height="36.90" fill="#1f3a72"/>
<line x1="130.60" y1="798.30" x2="130.60" y2="800.60" stroke="#111" stroke-width="1.3"/>
<line x1="127.70" y1="798.30" x2="133.50" y2="798.30" stroke="#111" stroke-width="1.3"/>
<rect x="125.60" y="800.10" width="10.00" height="28.90" fill="#a3002a"/>
<rect x="125.90" y="800.10" width="1.00" height="28.90" fill="#960020"/>
<rect x="134.30" y="800.10" width="1.00" height="28.90" fill="#960020"/>
<line x1="148.00" y1="752.50" x2="148.00" y2="755.50" stroke="#111" stroke-width="1.3"/>
<line x1="145.10" y1="752.50" x2="150.90" y2="752.50" stroke="#111" stroke-width="1.3"/>
<rect x="143.00" y="755.00" width="10.00" height="74.00" fill="#2f4b82"/>
<rect x="143.30" y="755.00" width="1.00" height="74.00" fill="#1f3a72"/>
<rect x="151.70" y="755.00" width="1.00" height="74.00" fill="#1f3a72"/>
<polyline points="97.60,779.10 129.60,779.10" fill="none" stroke="#111" stroke-width="1.3"/>
<polyline points="113.50,779.10 113.50,745.90 148.00,745.90 148.00,748.30" fill="none" stroke="#111" stroke-width="1.3"/>
<circle cx="127.20" cy="741.70" r="1.05" fill="#2a2a2a"/>
<circle cx="130.80" cy="741.70" r="1.05" fill="#2a2a2a"/>
<circle cx="134.40" cy="741.70" r="1.05" fill="#2a2a2a"/>
<text x="104.20" y="841.70" font-size="8.2" text-anchor="middle" textLength="24.00" lengthAdjust="spacingAndGlyphs">DMSO</text>
<text x="139.00" y="841.70" font-size="8.2" text-anchor="middle" textLength="15.30" lengthAdjust="spacingAndGlyphs">DEX</text>
<text transform="translate(49.90,779.20) rotate(-90) skewX(-5)" x="0" y="0" font-size="10.8" text-anchor="middle" textLength="26.80" lengthAdjust="spacingAndGlyphs" font-style="italic">NR3C1</text>
<text transform="translate(62.70,778.30) rotate(-90)" x="0" y="0" font-size="11" text-anchor="middle" textLength="93.00" lengthAdjust="spacingAndGlyphs">relative expression (AU)</text>
<line x1="222.90" y1="728.00" x2="222.90" y2="830.30" stroke="#000" stroke-width="1.6"/>
<line x1="218.30" y1="829.60" x2="222.90" y2="829.60" stroke="#000" stroke-width="1.3"/>
<line x1="218.30" y1="810.06" x2="222.90" y2="810.06" stroke="#000" stroke-width="1.3"/>
<text x="213.50" y="813.07" font-size="8.6" text-anchor="end" textLength="8.60" lengthAdjust="spacingAndGlyphs">10</text>
<line x1="218.30" y1="790.52" x2="222.90" y2="790.52" stroke="#000" stroke-width="1.3"/>
<text x="213.50" y="793.53" font-size="8.6" text-anchor="end" textLength="8.60" lengthAdjust="spacingAndGlyphs">20</text>
<line x1="218.30" y1="770.98" x2="222.90" y2="770.98" stroke="#000" stroke-width="1.3"/>
<text x="213.50" y="773.99" font-size="8.6" text-anchor="end" textLength="8.60" lengthAdjust="spacingAndGlyphs">30</text>
<line x1="218.30" y1="751.44" x2="222.90" y2="751.44" stroke="#000" stroke-width="1.3"/>
<text x="213.50" y="754.45" font-size="8.6" text-anchor="end" textLength="8.60" lengthAdjust="spacingAndGlyphs">40</text>
<line x1="218.30" y1="731.90" x2="222.90" y2="731.90" stroke="#000" stroke-width="1.3"/>
<text x="213.50" y="734.91" font-size="8.6" text-anchor="end" textLength="8.60" lengthAdjust="spacingAndGlyphs">50</text>
<line x1="222.10" y1="829.60" x2="298.90" y2="829.60" stroke="#000" stroke-width="1.7"/>
<rect x="229.70" y="828.60" width="10.00" height="0.40" fill="#a3002a"/>
<line x1="252.10" y1="823.80" x2="252.10" y2="826.30" stroke="#111" stroke-width="1.3"/>
<line x1="249.20" y1="823.80" x2="255.00" y2="823.80" stroke="#111" stroke-width="1.3"/>
<rect x="247.10" y="825.80" width="10.00" height="3.20" fill="#2f4b82"/>
<rect x="247.40" y="825.80" width="1.00" height="3.20" fill="#1f3a72"/>
<rect x="255.80" y="825.80" width="1.00" height="3.20" fill="#1f3a72"/>
<line x1="269.50" y1="811.20" x2="269.50" y2="815.50" stroke="#111" stroke-width="1.3"/>
<line x1="266.60" y1="811.20" x2="272.40" y2="811.20" stroke="#111" stroke-width="1.3"/>
<rect x="264.50" y="815.00" width="10.00" height="14.00" fill="#a3002a"/>
<rect x="264.80" y="815.00" width="1.00" height="14.00" fill="#960020"/>
<rect x="273.20" y="815.00" width="1.00" height="14.00" fill="#960020"/>
<line x1="286.90" y1="747.40" x2="286.90" y2="753.80" stroke="#111" stroke-width="1.3"/>
<line x1="284.00" y1="747.40" x2="289.80" y2="747.40" stroke="#111" stroke-width="1.3"/>
<rect x="281.90" y="753.30" width="10.00" height="75.70" fill="#2f4b82"/>
<rect x="282.20" y="753.30" width="1.00" height="75.70" fill="#1f3a72"/>
<rect x="290.60" y="753.30" width="1.00" height="75.70" fill="#1f3a72"/>
<polyline points="236.20,796.50 268.30,796.50" fill="none" stroke="#111" stroke-width="1.3"/>
<polyline points="251.50,796.50 251.50,743.50 284.60,743.50 284.60,745.90" fill="none" stroke="#111" stroke-width="1.3"/>
<circle cx="264.70" cy="739.20" r="1.05" fill="#2a2a2a"/>
<circle cx="268.30" cy="739.20" r="1.05" fill="#2a2a2a"/>
<circle cx="271.90" cy="739.20" r="1.05" fill="#2a2a2a"/>
<text x="243.10" y="841.70" font-size="8.2" text-anchor="middle" textLength="24.00" lengthAdjust="spacingAndGlyphs">DMSO</text>
<text x="277.90" y="841.70" font-size="8.2" text-anchor="middle" textLength="15.30" lengthAdjust="spacingAndGlyphs">DEX</text>
<text transform="translate(183.90,779.20) rotate(-90) skewX(-5)" x="0" y="0" font-size="10.8" text-anchor="middle" textLength="18.80" lengthAdjust="spacingAndGlyphs" font-style="italic">BTG1</text>
<text transform="translate(197.10,778.60) rotate(-90)" x="0" y="0" font-size="11" text-anchor="middle" textLength="93.00" lengthAdjust="spacingAndGlyphs">relative expression (AU)</text>
<line x1="364.00" y1="728.00" x2="364.00" y2="830.30" stroke="#000" stroke-width="1.6"/>
<line x1="359.40" y1="829.60" x2="364.00" y2="829.60" stroke="#000" stroke-width="1.3"/>
<text x="354.80" y="832.61" font-size="8.6" text-anchor="end" textLength="4.30" lengthAdjust="spacingAndGlyphs">0</text>
<line x1="359.40" y1="805.28" x2="364.00" y2="805.28" stroke="#000" stroke-width="1.3"/>
<text x="354.80" y="808.29" font-size="8.6" text-anchor="end" textLength="8.60" lengthAdjust="spacingAndGlyphs">20</text>
<line x1="359.40" y1="780.96" x2="364.00" y2="780.96" stroke="#000" stroke-width="1.3"/>
<text x="354.80" y="783.97" font-size="8.6" text-anchor="end" textLength="8.60" lengthAdjust="spacingAndGlyphs">40</text>
<line x1="359.40" y1="756.64" x2="364.00" y2="756.64" stroke="#000" stroke-width="1.3"/>
<text x="354.80" y="759.65" font-size="8.6" text-anchor="end" textLength="8.60" lengthAdjust="spacingAndGlyphs">60</text>
<line x1="359.40" y1="732.32" x2="364.00" y2="732.32" stroke="#000" stroke-width="1.3"/>
<text x="354.80" y="735.33" font-size="8.6" text-anchor="end" textLength="8.60" lengthAdjust="spacingAndGlyphs">80</text>
<line x1="363.20" y1="829.60" x2="440.00" y2="829.60" stroke="#000" stroke-width="1.7"/>
<rect x="370.80" y="829.00" width="10.00" height="0.00" fill="#a3002a"/>
<line x1="393.20" y1="826.80" x2="393.20" y2="828.30" stroke="#111" stroke-width="1.3"/>
<line x1="390.30" y1="826.80" x2="396.10" y2="826.80" stroke="#111" stroke-width="1.3"/>
<rect x="388.20" y="827.80" width="10.00" height="1.20" fill="#2f4b82"/>
<line x1="410.60" y1="826.20" x2="410.60" y2="828.10" stroke="#111" stroke-width="1.3"/>
<line x1="407.70" y1="826.20" x2="413.50" y2="826.20" stroke="#111" stroke-width="1.3"/>
<rect x="405.60" y="827.60" width="10.00" height="1.40" fill="#a3002a"/>
<line x1="428.00" y1="756.50" x2="428.00" y2="761.30" stroke="#111" stroke-width="1.3"/>
<line x1="425.10" y1="756.50" x2="430.90" y2="756.50" stroke="#111" stroke-width="1.3"/>
<rect x="423.00" y="760.80" width="10.00" height="68.20" fill="#2f4b82"/>
<rect x="423.30" y="760.80" width="1.00" height="68.20" fill="#1f3a72"/>
<rect x="431.70" y="760.80" width="1.00" height="68.20" fill="#1f3a72"/>
<polyline points="378.80,805.40 411.50,805.40" fill="none" stroke="#111" stroke-width="1.3"/>
<polyline points="394.80,805.40 394.80,752.90 427.70,752.90 427.70,755.30" fill="none" stroke="#111" stroke-width="1.3"/>
<circle cx="407.90" cy="748.40" r="1.05" fill="#2a2a2a"/>
<circle cx="411.50" cy="748.40" r="1.05" fill="#2a2a2a"/>
<circle cx="415.10" cy="748.40" r="1.05" fill="#2a2a2a"/>
<text x="384.20" y="841.70" font-size="8.2" text-anchor="middle" textLength="24.00" lengthAdjust="spacingAndGlyphs">DMSO</text>
<text x="419.00" y="841.70" font-size="8.2" text-anchor="middle" textLength="15.30" lengthAdjust="spacingAndGlyphs">DEX</text>
<text transform="translate(325.00,778.90) rotate(-90) skewX(-5)" x="0" y="0" font-size="10.8" text-anchor="middle" textLength="34.30" lengthAdjust="spacingAndGlyphs" font-style="italic">BCL2L11</text>
<text transform="translate(338.80,778.60) rotate(-90)" x="0" y="0" font-size="11" text-anchor="middle" textLength="93.00" lengthAdjust="spacingAndGlyphs">relative expression (AU)</text>
<rect x="367.20" y="716.70" width="8.70" height="3.40" fill="#a3002a"/>
<text x="380.80" y="721.40" font-size="8.4" textLength="23.70" lengthAdjust="spacingAndGlyphs">DMSO</text>
<rect x="367.20" y="727.00" width="8.70" height="3.40" fill="#2f4b82"/>
<text x="380.80" y="731.70" font-size="8.4" textLength="70.70" lengthAdjust="spacingAndGlyphs">Forskolin and IBMX</text>
<line x1="83.90" y1="857.20" x2="83.90" y2="906.40" stroke="#000" stroke-width="1.6"/>
<line x1="83.90" y1="914.00" x2="83.90" y2="959.30" stroke="#000" stroke-width="1.6"/>
<line x1="79.30" y1="958.60" x2="83.90" y2="958.60" stroke="#000" stroke-width="1.3"/>
<line x1="79.30" y1="936.30" x2="83.90" y2="936.30" stroke="#000" stroke-width="1.3"/>
<text x="74.90" y="939.31" font-size="8.6" text-anchor="end" textLength="8.60" lengthAdjust="spacingAndGlyphs">50</text>
<line x1="79.30" y1="914.00" x2="83.90" y2="914.00" stroke="#000" stroke-width="1.3"/>
<text x="74.90" y="917.01" font-size="8.6" text-anchor="end" textLength="12.90" lengthAdjust="spacingAndGlyphs">100</text>
<line x1="79.30" y1="900.00" x2="83.90" y2="900.00" stroke="#000" stroke-width="1.3"/>
<text x="74.90" y="903.01" font-size="8.6" text-anchor="end" textLength="17.20" lengthAdjust="spacingAndGlyphs">1500</text>
<line x1="79.30" y1="887.00" x2="83.90" y2="887.00" stroke="#000" stroke-width="1.3"/>
<text x="74.90" y="890.01" font-size="8.6" text-anchor="end" textLength="17.20" lengthAdjust="spacingAndGlyphs">2000</text>
<line x1="79.30" y1="874.00" x2="83.90" y2="874.00" stroke="#000" stroke-width="1.3"/>
<text x="74.90" y="877.01" font-size="8.6" text-anchor="end" textLength="17.20" lengthAdjust="spacingAndGlyphs">2500</text>
<line x1="79.30" y1="861.00" x2="83.90" y2="861.00" stroke="#000" stroke-width="1.3"/>
<text x="74.90" y="864.01" font-size="8.6" text-anchor="end" textLength="17.20" lengthAdjust="spacingAndGlyphs">3000</text>
<line x1="79.30" y1="906.40" x2="88.50" y2="906.40" stroke="#000" stroke-width="1.3"/>
<line x1="79.30" y1="914.00" x2="88.50" y2="914.00" stroke="#000" stroke-width="1.3"/>
<line x1="83.10" y1="958.60" x2="159.90" y2="958.60" stroke="#000" stroke-width="1.7"/>
<line x1="113.10" y1="957.40" x2="113.10" y2="958.50" stroke="#111" stroke-width="1.3"/>
<line x1="110.20" y1="957.40" x2="116.00" y2="957.40" stroke="#111" stroke-width="1.3"/>
<rect x="108.10" y="958.00" width="10.00" height="0.00" fill="#2f4b82"/>
<line x1="130.50" y1="928.50" x2="130.50" y2="940.50" stroke="#111" stroke-width="1.3"/>
<line x1="127.60" y1="928.50" x2="133.40" y2="928.50" stroke="#111" stroke-width="1.3"/>
<rect x="125.50" y="940.00" width="10.00" height="18.00" fill="#a3002a"/>
<rect x="125.80" y="940.00" width="1.00" height="18.00" fill="#960020"/>
<rect x="134.20" y="940.00" width="1.00" height="18.00" fill="#960020"/>
<line x1="147.90" y1="868.80" x2="147.90" y2="883.70" stroke="#111" stroke-width="1.3"/>
<line x1="145.00" y1="868.80" x2="150.80" y2="868.80" stroke="#111" stroke-width="1.3"/>
<rect x="142.90" y="914.00" width="10.00" height="44.00" fill="#2f4b82"/>
<rect x="143.20" y="914.00" width="1.00" height="44.00" fill="#1f3a72"/>
<rect x="151.60" y="914.00" width="1.00" height="44.00" fill="#1f3a72"/>
<rect x="142.90" y="883.20" width="10.00" height="23.00" fill="#2f4b82"/>
<rect x="143.20" y="883.20" width="1.00" height="23.00" fill="#1f3a72"/>
<rect x="151.60" y="883.20" width="1.00" height="23.00" fill="#1f3a72"/>
<polyline points="97.60,916.40 129.20,916.40" fill="none" stroke="#111" stroke-width="1.3"/>
<polyline points="113.00,916.40 113.00,863.70 145.60,863.70 145.60,866.10" fill="none" stroke="#111" stroke-width="1.3"/>
<circle cx="126.00" cy="860.00" r="1.05" fill="#2a2a2a"/>
<circle cx="129.60" cy="860.00" r="1.05" fill="#2a2a2a"/>
<circle cx="133.20" cy="860.00" r="1.05" fill="#2a2a2a"/>
<text x="104.10" y="970.20" font-size="8.2" text-anchor="middle" textLength="24.00" lengthAdjust="spacingAndGlyphs">DMSO</text>
<text x="138.90" y="970.20" font-size="8.2" text-anchor="middle" textLength="15.30" lengthAdjust="spacingAndGlyphs">DEX</text>
<text transform="translate(35.80,907.60) rotate(-90) skewX(-5)" x="0" y="0" font-size="10.8" text-anchor="middle" textLength="35.70" lengthAdjust="spacingAndGlyphs" font-style="italic">TSC22D3</text>
<text transform="translate(49.70,907.90) rotate(-90)" x="0" y="0" font-size="11" text-anchor="middle" textLength="93.00" lengthAdjust="spacingAndGlyphs">relative expression (AU)</text>
<line x1="222.90" y1="857.20" x2="222.90" y2="959.40" stroke="#000" stroke-width="1.6"/>
<line x1="218.30" y1="958.70" x2="222.90" y2="958.70" stroke="#000" stroke-width="1.3"/>
<line x1="218.30" y1="926.27" x2="222.90" y2="926.27" stroke="#000" stroke-width="1.3"/>
<text x="213.50" y="929.28" font-size="8.6" text-anchor="end" textLength="4.30" lengthAdjust="spacingAndGlyphs">5</text>
<line x1="218.30" y1="893.83" x2="222.90" y2="893.83" stroke="#000" stroke-width="1.3"/>
<text x="213.50" y="896.84" font-size="8.6" text-anchor="end" textLength="8.60" lengthAdjust="spacingAndGlyphs">10</text>
<line x1="218.30" y1="861.39" x2="222.90" y2="861.39" stroke="#000" stroke-width="1.3"/>
<text x="213.50" y="864.40" font-size="8.6" text-anchor="end" textLength="8.60" lengthAdjust="spacingAndGlyphs">15</text>
<line x1="222.10" y1="958.70" x2="298.90" y2="958.70" stroke="#000" stroke-width="1.7"/>
<rect x="229.70" y="953.50" width="10.00" height="4.60" fill="#a3002a"/>
<rect x="230.00" y="953.50" width="1.00" height="4.60" fill="#960020"/>
<rect x="238.40" y="953.50" width="1.00" height="4.60" fill="#960020"/>
<line x1="252.10" y1="944.80" x2="252.10" y2="948.50" stroke="#111" stroke-width="1.3"/>
<line x1="249.20" y1="944.80" x2="255.00" y2="944.80" stroke="#111" stroke-width="1.3"/>
<rect x="247.10" y="948.00" width="10.00" height="10.10" fill="#2f4b82"/>
<rect x="247.40" y="948.00" width="1.00" height="10.10" fill="#1f3a72"/>
<rect x="255.80" y="948.00" width="1.00" height="10.10" fill="#1f3a72"/>
<line x1="269.50" y1="937.50" x2="269.50" y2="941.30" stroke="#111" stroke-width="1.3"/>
<line x1="266.60" y1="937.50" x2="272.40" y2="937.50" stroke="#111" stroke-width="1.3"/>
<rect x="264.50" y="940.80" width="10.00" height="17.30" fill="#a3002a"/>
<rect x="264.80" y="940.80" width="1.00" height="17.30" fill="#960020"/>
<rect x="273.20" y="940.80" width="1.00" height="17.30" fill="#960020"/>
<line x1="286.90" y1="880.20" x2="286.90" y2="884.20" stroke="#111" stroke-width="1.3"/>
<line x1="284.00" y1="880.20" x2="289.80" y2="880.20" stroke="#111" stroke-width="1.3"/>
<rect x="281.90" y="883.70" width="10.00" height="74.40" fill="#2f4b82"/>
<rect x="282.20" y="883.70" width="1.00" height="74.40" fill="#1f3a72"/>
<rect x="290.60" y="883.70" width="1.00" height="74.40" fill="#1f3a72"/>
<polyline points="237.50,928.30 269.60,928.30" fill="none" stroke="#111" stroke-width="1.3"/>
<polyline points="253.50,928.30 253.50,875.00 286.50,875.00 286.50,877.40" fill="none" stroke="#111" stroke-width="1.3"/>
<circle cx="266.60" cy="871.20" r="1.05" fill="#2a2a2a"/>
<circle cx="270.20" cy="871.20" r="1.05" fill="#2a2a2a"/>
<circle cx="273.80" cy="871.20" r="1.05" fill="#2a2a2a"/>
<polyline points="237.50,935.60 269.60,935.60 269.60,937.80" fill="none" stroke="#111" stroke-width="1.3"/>
<circle cx="252.40" cy="932.70" r="1.05" fill="#2a2a2a"/>
<circle cx="256.00" cy="932.70" r="1.05" fill="#2a2a2a"/>
<text x="243.10" y="970.20" font-size="8.2" text-anchor="middle" textLength="24.00" lengthAdjust="spacingAndGlyphs">DMSO</text>
<text x="277.90" y="970.20" font-size="8.2" text-anchor="middle" textLength="15.30" lengthAdjust="spacingAndGlyphs">DEX</text>
<text transform="translate(183.20,907.90) rotate(-90) skewX(-5)" x="0" y="0" font-size="10.8" text-anchor="middle" textLength="33.70" lengthAdjust="spacingAndGlyphs" font-style="italic">ZFP36L2</text>
<text transform="translate(196.70,907.90) rotate(-90)" x="0" y="0" font-size="11" text-anchor="middle" textLength="93.00" lengthAdjust="spacingAndGlyphs">relative expression (AU)</text>
<line x1="364.10" y1="857.50" x2="364.10" y2="959.40" stroke="#000" stroke-width="1.6"/>
<line x1="359.50" y1="958.70" x2="364.10" y2="958.70" stroke="#000" stroke-width="1.3"/>
<line x1="359.50" y1="926.30" x2="364.10" y2="926.30" stroke="#000" stroke-width="1.3"/>
<text x="355.00" y="929.31" font-size="8.6" text-anchor="end" textLength="4.30" lengthAdjust="spacingAndGlyphs">5</text>
<line x1="359.50" y1="893.90" x2="364.10" y2="893.90" stroke="#000" stroke-width="1.3"/>
<text x="355.00" y="896.91" font-size="8.6" text-anchor="end" textLength="8.60" lengthAdjust="spacingAndGlyphs">10</text>
<line x1="359.50" y1="861.50" x2="364.10" y2="861.50" stroke="#000" stroke-width="1.3"/>
<text x="355.00" y="864.51" font-size="8.6" text-anchor="end" textLength="8.60" lengthAdjust="spacingAndGlyphs">15</text>
<line x1="363.30" y1="958.70" x2="440.10" y2="958.70" stroke="#000" stroke-width="1.7"/>
<rect x="370.90" y="953.50" width="10.00" height="4.60" fill="#a3002a"/>
<rect x="371.20" y="953.50" width="1.00" height="4.60" fill="#960020"/>
<rect x="379.60" y="953.50" width="1.00" height="4.60" fill="#960020"/>
<line x1="393.30" y1="945.20" x2="393.30" y2="948.00" stroke="#111" stroke-width="1.3"/>
<line x1="390.40" y1="945.20" x2="396.20" y2="945.20" stroke="#111" stroke-width="1.3"/>
<rect x="388.30" y="947.50" width="10.00" height="10.60" fill="#2f4b82"/>
<rect x="388.60" y="947.50" width="1.00" height="10.60" fill="#1f3a72"/>
<rect x="397.00" y="947.50" width="1.00" height="10.60" fill="#1f3a72"/>
<line x1="410.70" y1="943.30" x2="410.70" y2="946.30" stroke="#111" stroke-width="1.3"/>
<line x1="407.80" y1="943.30" x2="413.60" y2="943.30" stroke="#111" stroke-width="1.3"/>
<rect x="405.70" y="945.80" width="10.00" height="12.30" fill="#a3002a"/>
<rect x="406.00" y="945.80" width="1.00" height="12.30" fill="#960020"/>
<rect x="414.40" y="945.80" width="1.00" height="12.30" fill="#960020"/>
<line x1="428.10" y1="889.40" x2="428.10" y2="894.00" stroke="#111" stroke-width="1.3"/>
<line x1="425.20" y1="889.40" x2="431.00" y2="889.40" stroke="#111" stroke-width="1.3"/>
<rect x="423.10" y="893.50" width="10.00" height="64.60" fill="#2f4b82"/>
<rect x="423.40" y="893.50" width="1.00" height="64.60" fill="#1f3a72"/>
<rect x="431.80" y="893.50" width="1.00" height="64.60" fill="#1f3a72"/>
<polyline points="377.10,936.50 409.80,936.50" fill="none" stroke="#111" stroke-width="1.3"/>
<polyline points="392.90,936.50 392.90,883.30 426.20,883.30 426.20,885.70" fill="none" stroke="#111" stroke-width="1.3"/>
<circle cx="406.20" cy="879.80" r="1.05" fill="#2a2a2a"/>
<circle cx="409.80" cy="879.80" r="1.05" fill="#2a2a2a"/>
<circle cx="413.40" cy="879.80" r="1.05" fill="#2a2a2a"/>
<text x="384.30" y="970.40" font-size="8.2" text-anchor="middle" textLength="24.00" lengthAdjust="spacingAndGlyphs">DMSO</text>
<text x="419.10" y="970.40" font-size="8.2" text-anchor="middle" textLength="15.30" lengthAdjust="spacingAndGlyphs">DEX</text>
<text transform="translate(325.00,907.90) rotate(-90) skewX(-5)" x="0" y="0" font-size="10.8" text-anchor="middle" textLength="24.20" lengthAdjust="spacingAndGlyphs" font-style="italic">KLF13</text>
<text transform="translate(338.50,907.90) rotate(-90)" x="0" y="0" font-size="11" text-anchor="middle" textLength="93.00" lengthAdjust="spacingAndGlyphs">relative expression (AU)</text>
</svg></body></html>
